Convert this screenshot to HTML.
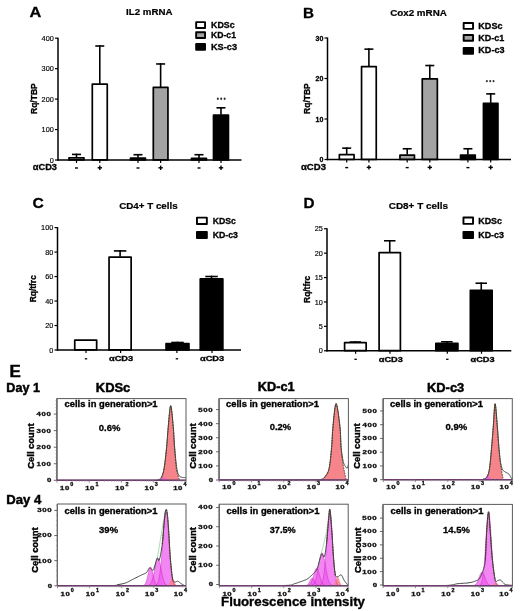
<!DOCTYPE html>
<html><head><meta charset="utf-8"><style>
html,body{margin:0;padding:0;background:#fff;}
body{width:520px;height:611px;overflow:hidden;}
svg{display:block;font-family:"Liberation Sans", sans-serif;}
</style></head><body>
<svg style="will-change:transform" width="520" height="611" viewBox="0 0 520 611" font-family='"Liberation Sans", sans-serif'>
<rect width="520" height="611" fill="#fff"/>
<text x="29.40" y="17.00" font-size="15.5" font-weight="bold" fill="#000" stroke="#000" stroke-width="0.3" textLength="11.80" lengthAdjust="spacingAndGlyphs" >A</text>
<text x="126.00" y="15.00" font-size="9.7" font-weight="bold" fill="#000" stroke="#000" stroke-width="0.2" textLength="46.50" lengthAdjust="spacingAndGlyphs" >IL2 mRNA</text>
<rect x="196.15" y="22.15" width="8.90" height="5.80" fill="#fff" stroke="#000" stroke-width="1.9" stroke-linejoin="round"/>
<text x="211.00" y="27.80" font-size="9" font-weight="bold" fill="#000" stroke="#000" stroke-width="0.3" textLength="23.60" lengthAdjust="spacingAndGlyphs" >KDSc</text>
<rect x="196.15" y="32.25" width="8.90" height="5.70" fill="#a3a3a3" stroke="#000" stroke-width="1.9" stroke-linejoin="round"/>
<text x="211.00" y="38.30" font-size="9" font-weight="bold" fill="#000" stroke="#000" stroke-width="0.3" textLength="25.00" lengthAdjust="spacingAndGlyphs" >KD-c1</text>
<rect x="196.15" y="43.95" width="8.90" height="5.80" fill="#000" stroke="#000" stroke-width="1.9" stroke-linejoin="round"/>
<text x="211.00" y="49.80" font-size="9" font-weight="bold" fill="#000" stroke="#000" stroke-width="0.3" textLength="26.00" lengthAdjust="spacingAndGlyphs" >KS-c3</text>
<line x1="58.00" y1="37.70" x2="58.00" y2="160.75" stroke="#000" stroke-width="1.5" />
<line x1="55.00" y1="38.20" x2="58.00" y2="38.20" stroke="#000" stroke-width="1.2" />
<text x="53.80" y="40.80" font-size="7.3" font-weight="normal" fill="#000" stroke="#000" stroke-width="0.15" text-anchor="end" >400</text>
<line x1="55.00" y1="68.65" x2="58.00" y2="68.65" stroke="#000" stroke-width="1.2" />
<text x="53.80" y="71.25" font-size="7.3" font-weight="normal" fill="#000" stroke="#000" stroke-width="0.15" text-anchor="end" >300</text>
<line x1="55.00" y1="99.10" x2="58.00" y2="99.10" stroke="#000" stroke-width="1.2" />
<text x="53.80" y="101.70" font-size="7.3" font-weight="normal" fill="#000" stroke="#000" stroke-width="0.15" text-anchor="end" >200</text>
<line x1="55.00" y1="129.55" x2="58.00" y2="129.55" stroke="#000" stroke-width="1.2" />
<text x="53.80" y="132.15" font-size="7.3" font-weight="normal" fill="#000" stroke="#000" stroke-width="0.15" text-anchor="end" >100</text>
<line x1="55.00" y1="160.00" x2="58.00" y2="160.00" stroke="#000" stroke-width="1.2" />
<text x="53.80" y="162.60" font-size="7.3" font-weight="normal" fill="#000" stroke="#000" stroke-width="0.15" text-anchor="end" >0</text>
<line x1="57.30" y1="160.00" x2="241.50" y2="160.00" stroke="#000" stroke-width="1.5" />
<text x="36.70" y="98.60" font-size="8.4" font-weight="bold" fill="#000" stroke="#000" stroke-width="0.3" text-anchor="middle" textLength="30.70" lengthAdjust="spacingAndGlyphs" transform="rotate(-90 36.70 98.60)" >Rq/TBP</text>
<rect x="69.00" y="157.81" width="14.95" height="2.09" fill="#fff" stroke="#000" stroke-width="1.7" stroke-linejoin="round"/>
<line x1="76.47" y1="157.46" x2="76.47" y2="153.61" stroke="#000" stroke-width="1.6" />
<line x1="71.97" y1="154.41" x2="80.97" y2="154.41" stroke="#000" stroke-width="1.6" />
<rect x="92.30" y="84.12" width="14.95" height="75.78" fill="#fff" stroke="#000" stroke-width="1.7" stroke-linejoin="round"/>
<line x1="99.78" y1="83.77" x2="99.78" y2="45.20" stroke="#000" stroke-width="1.6" />
<line x1="95.28" y1="46.00" x2="104.28" y2="46.00" stroke="#000" stroke-width="1.6" />
<rect x="130.50" y="158.11" width="14.95" height="1.79" fill="#a3a3a3" stroke="#000" stroke-width="1.7" stroke-linejoin="round"/>
<line x1="137.98" y1="157.76" x2="137.98" y2="153.91" stroke="#000" stroke-width="1.6" />
<line x1="133.48" y1="154.71" x2="142.48" y2="154.71" stroke="#000" stroke-width="1.6" />
<rect x="153.30" y="87.47" width="14.65" height="72.43" fill="#a3a3a3" stroke="#000" stroke-width="1.7" stroke-linejoin="round"/>
<line x1="160.62" y1="87.12" x2="160.62" y2="63.17" stroke="#000" stroke-width="1.6" />
<line x1="156.12" y1="63.97" x2="165.12" y2="63.97" stroke="#000" stroke-width="1.6" />
<rect x="191.50" y="158.41" width="14.95" height="1.49" fill="#000" stroke="#000" stroke-width="1.7" stroke-linejoin="round"/>
<line x1="198.98" y1="158.06" x2="198.98" y2="153.91" stroke="#000" stroke-width="1.6" />
<line x1="194.48" y1="154.71" x2="203.48" y2="154.71" stroke="#000" stroke-width="1.6" />
<rect x="213.50" y="115.17" width="14.95" height="44.72" fill="#000" stroke="#000" stroke-width="1.7" stroke-linejoin="round"/>
<line x1="220.98" y1="114.83" x2="220.98" y2="107.02" stroke="#000" stroke-width="1.6" />
<line x1="216.48" y1="107.82" x2="225.48" y2="107.82" stroke="#000" stroke-width="1.6" />
<ellipse cx="217.80" cy="98.8" rx="1.0" ry="1.2" fill="#333"/>
<ellipse cx="221.20" cy="98.8" rx="1.0" ry="1.2" fill="#333"/>
<ellipse cx="224.60" cy="98.8" rx="1.0" ry="1.2" fill="#333"/>
<text x="32.80" y="170.40" font-size="9" font-weight="bold" fill="#000" stroke="#000" stroke-width="0.3" textLength="24.20" lengthAdjust="spacingAndGlyphs" >αCD3</text>
<line x1="76.50" y1="160.00" x2="76.50" y2="163.00" stroke="#000" stroke-width="1.2" />
<line x1="75.00" y1="168.00" x2="78.00" y2="168.00" stroke="#000" stroke-width="1.4" />
<line x1="99.80" y1="160.00" x2="99.80" y2="163.00" stroke="#000" stroke-width="1.2" />
<line x1="97.60" y1="167.80" x2="102.00" y2="167.80" stroke="#000" stroke-width="1.4" />
<line x1="99.80" y1="165.60" x2="99.80" y2="170.00" stroke="#000" stroke-width="1.4" />
<line x1="138.00" y1="160.00" x2="138.00" y2="163.00" stroke="#000" stroke-width="1.2" />
<line x1="136.50" y1="168.00" x2="139.50" y2="168.00" stroke="#000" stroke-width="1.4" />
<line x1="160.65" y1="160.00" x2="160.65" y2="163.00" stroke="#000" stroke-width="1.2" />
<line x1="158.45" y1="167.80" x2="162.85" y2="167.80" stroke="#000" stroke-width="1.4" />
<line x1="160.65" y1="165.60" x2="160.65" y2="170.00" stroke="#000" stroke-width="1.4" />
<line x1="199.00" y1="160.00" x2="199.00" y2="163.00" stroke="#000" stroke-width="1.2" />
<line x1="197.50" y1="168.00" x2="200.50" y2="168.00" stroke="#000" stroke-width="1.4" />
<line x1="221.00" y1="160.00" x2="221.00" y2="163.00" stroke="#000" stroke-width="1.2" />
<line x1="218.80" y1="167.80" x2="223.20" y2="167.80" stroke="#000" stroke-width="1.4" />
<line x1="221.00" y1="165.60" x2="221.00" y2="170.00" stroke="#000" stroke-width="1.4" />
<text x="302.90" y="18.40" font-size="15.3" font-weight="bold" fill="#000" stroke="#000" stroke-width="0.3" textLength="11.00" lengthAdjust="spacingAndGlyphs" >B</text>
<text x="390.20" y="15.70" font-size="9.8" font-weight="bold" fill="#000" stroke="#000" stroke-width="0.2" textLength="56.60" lengthAdjust="spacingAndGlyphs" >Cox2 mRNA</text>
<rect x="463.65" y="23.05" width="9.40" height="5.80" fill="#fff" stroke="#000" stroke-width="1.9" stroke-linejoin="round"/>
<text x="478.30" y="29.00" font-size="9" font-weight="bold" fill="#000" stroke="#000" stroke-width="0.3" textLength="24.20" lengthAdjust="spacingAndGlyphs" >KDSc</text>
<rect x="463.65" y="34.95" width="9.40" height="5.80" fill="#a3a3a3" stroke="#000" stroke-width="1.9" stroke-linejoin="round"/>
<text x="478.30" y="40.70" font-size="9" font-weight="bold" fill="#000" stroke="#000" stroke-width="0.3" textLength="26.10" lengthAdjust="spacingAndGlyphs" >KD-c1</text>
<rect x="463.65" y="48.05" width="9.40" height="5.80" fill="#000" stroke="#000" stroke-width="1.9" stroke-linejoin="round"/>
<text x="478.30" y="53.30" font-size="9" font-weight="bold" fill="#000" stroke="#000" stroke-width="0.3" textLength="26.20" lengthAdjust="spacingAndGlyphs" >KD-c3</text>
<line x1="327.50" y1="37.50" x2="327.50" y2="160.25" stroke="#000" stroke-width="1.5" />
<line x1="324.50" y1="38.00" x2="327.50" y2="38.00" stroke="#000" stroke-width="1.2" />
<text x="323.30" y="40.60" font-size="7" font-weight="bold" fill="#000" stroke="#000" stroke-width="0.3" text-anchor="end" >30</text>
<line x1="324.50" y1="78.50" x2="327.50" y2="78.50" stroke="#000" stroke-width="1.2" />
<text x="323.30" y="81.10" font-size="7" font-weight="bold" fill="#000" stroke="#000" stroke-width="0.3" text-anchor="end" >20</text>
<line x1="324.50" y1="119.00" x2="327.50" y2="119.00" stroke="#000" stroke-width="1.2" />
<text x="323.30" y="121.60" font-size="7" font-weight="bold" fill="#000" stroke="#000" stroke-width="0.3" text-anchor="end" >10</text>
<line x1="324.50" y1="159.50" x2="327.50" y2="159.50" stroke="#000" stroke-width="1.2" />
<text x="323.30" y="162.10" font-size="7" font-weight="bold" fill="#000" stroke="#000" stroke-width="0.3" text-anchor="end" >0</text>
<line x1="326.80" y1="159.50" x2="511.00" y2="159.50" stroke="#000" stroke-width="1.5" />
<text x="309.60" y="98.60" font-size="8.4" font-weight="bold" fill="#000" stroke="#000" stroke-width="0.3" text-anchor="middle" textLength="30.70" lengthAdjust="spacingAndGlyphs" transform="rotate(-90 309.60 98.60)" >Rq/TBP</text>
<rect x="339.35" y="154.68" width="14.70" height="4.72" fill="#fff" stroke="#000" stroke-width="1.7" stroke-linejoin="round"/>
<line x1="346.70" y1="154.33" x2="346.70" y2="147.35" stroke="#000" stroke-width="1.6" />
<line x1="342.20" y1="148.15" x2="351.20" y2="148.15" stroke="#000" stroke-width="1.6" />
<rect x="361.55" y="66.59" width="14.70" height="92.81" fill="#fff" stroke="#000" stroke-width="1.7" stroke-linejoin="round"/>
<line x1="368.90" y1="66.24" x2="368.90" y2="48.33" stroke="#000" stroke-width="1.6" />
<line x1="364.40" y1="49.13" x2="373.40" y2="49.13" stroke="#000" stroke-width="1.6" />
<rect x="399.95" y="155.09" width="14.50" height="4.31" fill="#a3a3a3" stroke="#000" stroke-width="1.7" stroke-linejoin="round"/>
<line x1="407.20" y1="154.74" x2="407.20" y2="147.96" stroke="#000" stroke-width="1.6" />
<line x1="402.70" y1="148.76" x2="411.70" y2="148.76" stroke="#000" stroke-width="1.6" />
<rect x="422.25" y="78.94" width="15.10" height="80.45" fill="#a3a3a3" stroke="#000" stroke-width="1.7" stroke-linejoin="round"/>
<line x1="429.80" y1="78.59" x2="429.80" y2="64.73" stroke="#000" stroke-width="1.6" />
<line x1="425.30" y1="65.53" x2="434.30" y2="65.53" stroke="#000" stroke-width="1.6" />
<rect x="460.55" y="155.09" width="14.70" height="4.31" fill="#000" stroke="#000" stroke-width="1.7" stroke-linejoin="round"/>
<line x1="467.90" y1="154.74" x2="467.90" y2="147.96" stroke="#000" stroke-width="1.6" />
<line x1="463.40" y1="148.76" x2="472.40" y2="148.76" stroke="#000" stroke-width="1.6" />
<rect x="483.45" y="103.25" width="14.50" height="56.15" fill="#000" stroke="#000" stroke-width="1.7" stroke-linejoin="round"/>
<line x1="490.70" y1="102.90" x2="490.70" y2="93.08" stroke="#000" stroke-width="1.6" />
<line x1="486.20" y1="93.88" x2="495.20" y2="93.88" stroke="#000" stroke-width="1.6" />
<ellipse cx="486.90" cy="81.1" rx="1.0" ry="1.2" fill="#333"/>
<ellipse cx="490.20" cy="81.1" rx="1.0" ry="1.2" fill="#333"/>
<ellipse cx="493.50" cy="81.1" rx="1.0" ry="1.2" fill="#333"/>
<text x="301.00" y="169.80" font-size="9" font-weight="bold" fill="#000" stroke="#000" stroke-width="0.3" textLength="25.00" lengthAdjust="spacingAndGlyphs" >αCD3</text>
<line x1="346.70" y1="159.50" x2="346.70" y2="162.50" stroke="#000" stroke-width="1.2" />
<line x1="345.20" y1="167.60" x2="348.20" y2="167.60" stroke="#000" stroke-width="1.4" />
<line x1="368.90" y1="159.50" x2="368.90" y2="162.50" stroke="#000" stroke-width="1.2" />
<line x1="366.70" y1="167.40" x2="371.10" y2="167.40" stroke="#000" stroke-width="1.4" />
<line x1="368.90" y1="165.20" x2="368.90" y2="169.60" stroke="#000" stroke-width="1.4" />
<line x1="407.20" y1="159.50" x2="407.20" y2="162.50" stroke="#000" stroke-width="1.2" />
<line x1="405.70" y1="167.60" x2="408.70" y2="167.60" stroke="#000" stroke-width="1.4" />
<line x1="429.80" y1="159.50" x2="429.80" y2="162.50" stroke="#000" stroke-width="1.2" />
<line x1="427.60" y1="167.40" x2="432.00" y2="167.40" stroke="#000" stroke-width="1.4" />
<line x1="429.80" y1="165.20" x2="429.80" y2="169.60" stroke="#000" stroke-width="1.4" />
<line x1="467.90" y1="159.50" x2="467.90" y2="162.50" stroke="#000" stroke-width="1.2" />
<line x1="466.40" y1="167.60" x2="469.40" y2="167.60" stroke="#000" stroke-width="1.4" />
<line x1="490.70" y1="159.50" x2="490.70" y2="162.50" stroke="#000" stroke-width="1.2" />
<line x1="488.50" y1="167.40" x2="492.90" y2="167.40" stroke="#000" stroke-width="1.4" />
<line x1="490.70" y1="165.20" x2="490.70" y2="169.60" stroke="#000" stroke-width="1.4" />
<text x="32.40" y="208.30" font-size="15.5" font-weight="bold" fill="#000" stroke="#000" stroke-width="0.3" textLength="11.30" lengthAdjust="spacingAndGlyphs" >C</text>
<text x="119.25" y="208.60" font-size="9.4" font-weight="bold" fill="#000" stroke="#000" stroke-width="0.2" textLength="58.40" lengthAdjust="spacingAndGlyphs" >CD4+ T cells</text>
<rect x="196.95" y="217.65" width="9.90" height="6.30" fill="#fff" stroke="#000" stroke-width="1.9" stroke-linejoin="round"/>
<text x="212.70" y="224.10" font-size="9" font-weight="bold" fill="#000" stroke="#000" stroke-width="0.3" textLength="23.10" lengthAdjust="spacingAndGlyphs" >KDSc</text>
<rect x="196.95" y="231.85" width="9.90" height="6.10" fill="#000" stroke="#000" stroke-width="1.9" stroke-linejoin="round"/>
<text x="212.70" y="238.30" font-size="9" font-weight="bold" fill="#000" stroke="#000" stroke-width="0.3" textLength="25.30" lengthAdjust="spacingAndGlyphs" >KD-c3</text>
<line x1="57.50" y1="227.10" x2="57.50" y2="350.75" stroke="#000" stroke-width="1.5" />
<line x1="54.50" y1="227.60" x2="57.50" y2="227.60" stroke="#000" stroke-width="1.2" />
<text x="53.30" y="230.20" font-size="7.3" font-weight="normal" fill="#000" stroke="#000" stroke-width="0.15" text-anchor="end" >100</text>
<line x1="54.50" y1="252.08" x2="57.50" y2="252.08" stroke="#000" stroke-width="1.2" />
<text x="53.30" y="254.68" font-size="7.3" font-weight="normal" fill="#000" stroke="#000" stroke-width="0.15" text-anchor="end" >80</text>
<line x1="54.50" y1="276.56" x2="57.50" y2="276.56" stroke="#000" stroke-width="1.2" />
<text x="53.30" y="279.16" font-size="7.3" font-weight="normal" fill="#000" stroke="#000" stroke-width="0.15" text-anchor="end" >60</text>
<line x1="54.50" y1="301.04" x2="57.50" y2="301.04" stroke="#000" stroke-width="1.2" />
<text x="53.30" y="303.64" font-size="7.3" font-weight="normal" fill="#000" stroke="#000" stroke-width="0.15" text-anchor="end" >40</text>
<line x1="54.50" y1="325.52" x2="57.50" y2="325.52" stroke="#000" stroke-width="1.2" />
<text x="53.30" y="328.12" font-size="7.3" font-weight="normal" fill="#000" stroke="#000" stroke-width="0.15" text-anchor="end" >20</text>
<line x1="54.50" y1="350.00" x2="57.50" y2="350.00" stroke="#000" stroke-width="1.2" />
<text x="53.30" y="352.60" font-size="7.3" font-weight="normal" fill="#000" stroke="#000" stroke-width="0.15" text-anchor="end" >0</text>
<line x1="56.80" y1="350.00" x2="241.00" y2="350.00" stroke="#000" stroke-width="1.5" />
<text x="36.30" y="288.70" font-size="8.2" font-weight="bold" fill="#000" stroke="#000" stroke-width="0.3" text-anchor="middle" textLength="27.00" lengthAdjust="spacingAndGlyphs" transform="rotate(-90 36.30 288.70)" >Rq/tfrc</text>
<rect x="74.75" y="340.08" width="21.90" height="9.82" fill="#fff" stroke="#000" stroke-width="1.7" stroke-linejoin="round"/>
<rect x="109.05" y="257.21" width="22.10" height="92.69" fill="#fff" stroke="#000" stroke-width="1.7" stroke-linejoin="round"/>
<line x1="120.10" y1="256.86" x2="120.10" y2="250.12" stroke="#000" stroke-width="1.6" />
<line x1="113.85" y1="250.92" x2="126.35" y2="250.92" stroke="#000" stroke-width="1.6" />
<rect x="166.05" y="343.51" width="22.90" height="6.39" fill="#000" stroke="#000" stroke-width="1.7" stroke-linejoin="round"/>
<line x1="177.50" y1="343.16" x2="177.50" y2="341.68" stroke="#000" stroke-width="1.6" />
<line x1="171.25" y1="342.48" x2="183.75" y2="342.48" stroke="#000" stroke-width="1.6" />
<rect x="200.25" y="278.88" width="22.60" height="71.02" fill="#000" stroke="#000" stroke-width="1.7" stroke-linejoin="round"/>
<line x1="211.55" y1="278.53" x2="211.55" y2="275.70" stroke="#000" stroke-width="1.6" />
<line x1="205.30" y1="276.50" x2="217.80" y2="276.50" stroke="#000" stroke-width="1.6" />
<line x1="86.00" y1="350.00" x2="86.00" y2="353.00" stroke="#000" stroke-width="1.2" />
<line x1="84.80" y1="358.80" x2="87.20" y2="358.80" stroke="#000" stroke-width="1.3" />
<line x1="176.90" y1="350.00" x2="176.90" y2="353.00" stroke="#000" stroke-width="1.2" />
<line x1="175.70" y1="358.80" x2="178.10" y2="358.80" stroke="#000" stroke-width="1.3" />
<line x1="120.60" y1="350.00" x2="120.60" y2="353.00" stroke="#000" stroke-width="1.2" />
<text x="109.00" y="361.20" font-size="7.2" font-weight="bold" fill="#000" stroke="#000" stroke-width="0.3" textLength="24.20" lengthAdjust="spacingAndGlyphs" >αCD3</text>
<line x1="212.00" y1="350.00" x2="212.00" y2="353.00" stroke="#000" stroke-width="1.2" />
<text x="200.00" y="361.20" font-size="7.2" font-weight="bold" fill="#000" stroke="#000" stroke-width="0.3" textLength="24.20" lengthAdjust="spacingAndGlyphs" >αCD3</text>
<text x="303.50" y="208.20" font-size="15.3" font-weight="bold" fill="#000" stroke="#000" stroke-width="0.3" textLength="11.00" lengthAdjust="spacingAndGlyphs" >D</text>
<text x="388.75" y="208.60" font-size="9.4" font-weight="bold" fill="#000" stroke="#000" stroke-width="0.2" textLength="59.30" lengthAdjust="spacingAndGlyphs" >CD8+ T cells</text>
<rect x="463.45" y="217.55" width="9.60" height="6.30" fill="#fff" stroke="#000" stroke-width="1.9" stroke-linejoin="round"/>
<text x="478.25" y="224.10" font-size="9" font-weight="bold" fill="#000" stroke="#000" stroke-width="0.3" textLength="23.75" lengthAdjust="spacingAndGlyphs" >KDSc</text>
<rect x="463.45" y="231.85" width="9.60" height="6.10" fill="#000" stroke="#000" stroke-width="1.9" stroke-linejoin="round"/>
<text x="478.25" y="238.40" font-size="9" font-weight="bold" fill="#000" stroke="#000" stroke-width="0.3" textLength="25.75" lengthAdjust="spacingAndGlyphs" >KD-c3</text>
<line x1="327.00" y1="228.25" x2="327.00" y2="351.50" stroke="#000" stroke-width="1.5" />
<line x1="324.00" y1="228.75" x2="327.00" y2="228.75" stroke="#000" stroke-width="1.2" />
<text x="322.80" y="231.35" font-size="7.3" font-weight="normal" fill="#000" stroke="#000" stroke-width="0.15" text-anchor="end" >25</text>
<line x1="324.00" y1="253.15" x2="327.00" y2="253.15" stroke="#000" stroke-width="1.2" />
<text x="322.80" y="255.75" font-size="7.3" font-weight="normal" fill="#000" stroke="#000" stroke-width="0.15" text-anchor="end" >20</text>
<line x1="324.00" y1="277.55" x2="327.00" y2="277.55" stroke="#000" stroke-width="1.2" />
<text x="322.80" y="280.15" font-size="7.3" font-weight="normal" fill="#000" stroke="#000" stroke-width="0.15" text-anchor="end" >15</text>
<line x1="324.00" y1="301.95" x2="327.00" y2="301.95" stroke="#000" stroke-width="1.2" />
<text x="322.80" y="304.55" font-size="7.3" font-weight="normal" fill="#000" stroke="#000" stroke-width="0.15" text-anchor="end" >10</text>
<line x1="324.00" y1="326.35" x2="327.00" y2="326.35" stroke="#000" stroke-width="1.2" />
<text x="322.80" y="328.95" font-size="7.3" font-weight="normal" fill="#000" stroke="#000" stroke-width="0.15" text-anchor="end" >5</text>
<line x1="324.00" y1="350.75" x2="327.00" y2="350.75" stroke="#000" stroke-width="1.2" />
<text x="322.80" y="353.35" font-size="7.3" font-weight="normal" fill="#000" stroke="#000" stroke-width="0.15" text-anchor="end" >0</text>
<line x1="326.30" y1="350.75" x2="511.30" y2="350.75" stroke="#000" stroke-width="1.5" />
<text x="310.50" y="289.40" font-size="8.2" font-weight="bold" fill="#000" stroke="#000" stroke-width="0.3" text-anchor="middle" textLength="27.00" lengthAdjust="spacingAndGlyphs" transform="rotate(-90 310.50 289.40)" >Rq/tfrc</text>
<rect x="344.60" y="342.62" width="21.55" height="8.03" fill="#fff" stroke="#000" stroke-width="1.7" stroke-linejoin="round"/>
<line x1="355.38" y1="342.27" x2="355.38" y2="341.23" stroke="#000" stroke-width="1.6" />
<line x1="349.62" y1="342.03" x2="361.12" y2="342.03" stroke="#000" stroke-width="1.6" />
<rect x="379.10" y="252.54" width="21.30" height="98.11" fill="#fff" stroke="#000" stroke-width="1.7" stroke-linejoin="round"/>
<line x1="389.75" y1="252.19" x2="389.75" y2="239.97" stroke="#000" stroke-width="1.6" />
<line x1="384.00" y1="240.77" x2="395.50" y2="240.77" stroke="#000" stroke-width="1.6" />
<rect x="435.85" y="343.30" width="22.05" height="7.35" fill="#000" stroke="#000" stroke-width="1.7" stroke-linejoin="round"/>
<line x1="446.88" y1="342.95" x2="446.88" y2="340.99" stroke="#000" stroke-width="1.6" />
<line x1="441.12" y1="341.79" x2="452.62" y2="341.79" stroke="#000" stroke-width="1.6" />
<rect x="470.35" y="290.36" width="21.80" height="60.29" fill="#000" stroke="#000" stroke-width="1.7" stroke-linejoin="round"/>
<line x1="481.25" y1="290.01" x2="481.25" y2="282.43" stroke="#000" stroke-width="1.6" />
<line x1="475.50" y1="283.23" x2="487.00" y2="283.23" stroke="#000" stroke-width="1.6" />
<line x1="355.60" y1="350.75" x2="355.60" y2="353.75" stroke="#000" stroke-width="1.2" />
<line x1="354.40" y1="359.30" x2="356.80" y2="359.30" stroke="#000" stroke-width="1.3" />
<line x1="447.30" y1="350.75" x2="447.30" y2="353.75" stroke="#000" stroke-width="1.2" />
<line x1="446.10" y1="359.30" x2="448.50" y2="359.30" stroke="#000" stroke-width="1.3" />
<line x1="390.00" y1="350.75" x2="390.00" y2="353.75" stroke="#000" stroke-width="1.2" />
<text x="378.75" y="361.80" font-size="7.2" font-weight="bold" fill="#000" stroke="#000" stroke-width="0.3" textLength="24.00" lengthAdjust="spacingAndGlyphs" >αCD3</text>
<line x1="481.50" y1="350.75" x2="481.50" y2="353.75" stroke="#000" stroke-width="1.2" />
<text x="470.50" y="361.80" font-size="7.2" font-weight="bold" fill="#000" stroke="#000" stroke-width="0.3" textLength="24.00" lengthAdjust="spacingAndGlyphs" >αCD3</text>
<text x="9.60" y="377.10" font-size="16.2" font-weight="bold" fill="#000" stroke="#000" stroke-width="0.45" textLength="11.30" lengthAdjust="spacingAndGlyphs" >E</text>
<text x="6.30" y="391.60" font-size="12" font-weight="bold" fill="#000" stroke="#000" stroke-width="0.45" textLength="33.70" lengthAdjust="spacingAndGlyphs" >Day 1</text>
<text x="6.30" y="503.90" font-size="12.5" font-weight="bold" fill="#000" stroke="#000" stroke-width="0.45" textLength="35.00" lengthAdjust="spacingAndGlyphs" >Day 4</text>
<text x="95.80" y="391.50" font-size="12.5" font-weight="bold" fill="#000" stroke="#000" stroke-width="0.45" textLength="34.50" lengthAdjust="spacingAndGlyphs" >KDSc</text>
<text x="257.70" y="391.40" font-size="12.5" font-weight="bold" fill="#000" stroke="#000" stroke-width="0.45" textLength="36.90" lengthAdjust="spacingAndGlyphs" >KD-c1</text>
<text x="427.00" y="391.60" font-size="12.5" font-weight="bold" fill="#000" stroke="#000" stroke-width="0.45" textLength="37.20" lengthAdjust="spacingAndGlyphs" >KD-c3</text>
<text x="221.10" y="606.20" font-size="13" font-weight="bold" fill="#000" stroke="#000" stroke-width="0.35" textLength="143.90" lengthAdjust="spacingAndGlyphs" >Fluorescence intensity</text>
<rect x="57.00" y="398.60" width="129.00" height="81.70" fill="#fff" stroke="none"/>
<clipPath id="c140218181574464"><rect x="57.00" y="398.60" width="129.00" height="81.70"/></clipPath>
<g clip-path="url(#c140218181574464)">
<path d="M160.50,480.30 L160.57,480.17 L160.64,480.06 L160.73,479.93 L160.84,479.75 L160.96,479.50 L161.11,479.14 L161.29,478.65 L161.50,478.00 L161.75,477.23 L162.04,476.38 L162.36,475.44 L162.71,474.37 L163.06,473.16 L163.42,471.78 L163.77,470.20 L164.10,468.40 L164.42,466.31 L164.75,463.93 L165.08,461.33 L165.41,458.57 L165.73,455.72 L166.03,452.84 L166.33,450.02 L166.60,447.30 L166.85,444.66 L167.06,442.01 L167.27,439.36 L167.46,436.71 L167.65,434.07 L167.84,431.43 L168.06,428.81 L168.30,426.20 L168.57,423.33 L168.85,420.07 L169.14,416.67 L169.45,413.35 L169.76,410.36 L170.08,407.93 L170.39,406.30 L170.70,405.70 L171.02,406.30 L171.34,407.93 L171.68,410.36 L172.01,413.35 L172.34,416.67 L172.65,420.07 L172.94,423.33 L173.20,426.20 L173.43,428.81 L173.62,431.43 L173.79,434.07 L173.95,436.71 L174.10,439.36 L174.25,442.01 L174.42,444.66 L174.60,447.30 L174.80,450.03 L175.00,452.88 L175.20,455.78 L175.41,458.66 L175.63,461.44 L175.85,464.04 L176.07,466.38 L176.30,468.40 L176.54,470.06 L176.80,471.44 L177.06,472.58 L177.33,473.53 L177.59,474.35 L177.84,475.08 L178.08,475.78 L178.30,476.50 L178.50,477.21 L178.70,477.84 L178.90,478.41 L179.08,478.91 L179.24,479.34 L179.38,479.72 L179.50,480.04 L179.60,480.30 Z" fill="#f5858a" fill-opacity="1.0" stroke="none"/>
<path d="M156.00,480.30 L156.00,480.30 L156.18,480.30 L156.36,480.30 L156.54,480.30 L156.72,480.30 L156.90,480.29 L157.08,480.29 L157.26,480.29 L157.44,480.28 L157.62,480.28 L157.80,480.27 L157.98,480.26 L158.16,480.24 L158.34,480.22 L158.52,480.20 L158.70,480.17 L158.88,480.13 L159.06,480.09 L159.24,480.03 L159.42,479.97 L159.60,479.89 L159.78,479.81 L159.96,479.71 L160.14,479.59 L160.32,479.47 L160.50,479.33 L160.68,479.17 L160.86,479.01 L161.04,478.84 L161.22,478.66 L161.40,478.48 L161.58,478.30 L161.76,478.12 L161.94,477.95 L162.12,477.79 L162.30,477.65 L162.48,477.53 L162.66,477.43 L162.84,477.36 L163.02,477.31 L163.20,477.30 L163.38,477.31 L163.56,477.36 L163.74,477.43 L163.92,477.53 L164.10,477.65 L164.28,477.79 L164.46,477.95 L164.64,478.12 L164.82,478.30 L165.00,478.48 L165.18,478.66 L165.36,478.84 L165.54,479.01 L165.72,479.17 L165.90,479.33 L166.08,479.47 L166.26,479.59 L166.44,479.71 L166.62,479.81 L166.80,479.89 L166.98,479.97 L167.16,480.03 L167.34,480.09 L167.52,480.13 L167.70,480.17 L167.88,480.20 L168.06,480.22 L168.24,480.24 L168.42,480.26 L168.60,480.27 L168.78,480.28 L168.96,480.28 L169.14,480.29 L169.32,480.29 L169.50,480.29 L169.68,480.30 L169.86,480.30 L170.04,480.30 L170.22,480.30 L170.40,480.30 L170.40,480.30 Z" fill="#f05cf0" fill-opacity="0.8" stroke="none"/>
<path d="M57.00,480.30 L64.76,480.30 L75.70,480.31 L88.80,480.32 L103.00,480.33 L117.26,480.34 L130.55,480.34 L141.81,480.32 L150.00,480.30 L155.10,480.28 L158.09,480.26 L159.43,480.24 L159.61,480.21 L159.08,480.16 L158.32,480.08 L157.81,479.96 L158.00,479.80 L158.64,479.63 L159.17,479.47 L159.60,479.29 L159.97,479.08 L160.31,478.79 L160.62,478.42 L160.94,477.93 L161.30,477.30 L161.68,476.58 L162.04,475.81 L162.40,474.97 L162.75,474.01 L163.09,472.91 L163.43,471.63 L163.77,470.14 L164.10,468.40 L164.43,466.35 L164.76,463.98 L165.09,461.38 L165.42,458.61 L165.73,455.75 L166.04,452.86 L166.33,450.02 L166.60,447.30 L166.85,444.66 L167.06,442.01 L167.27,439.36 L167.46,436.71 L167.65,434.07 L167.84,431.43 L168.06,428.81 L168.30,426.20 L168.57,423.33 L168.85,420.07 L169.14,416.67 L169.45,413.35 L169.76,410.36 L170.08,407.93 L170.39,406.30 L170.70,405.70 L171.02,406.30 L171.34,407.93 L171.68,410.36 L172.01,413.35 L172.34,416.67 L172.65,420.07 L172.94,423.33 L173.20,426.20 L173.42,428.81 L173.61,431.43 L173.77,434.07 L173.92,436.71 L174.06,439.36 L174.22,442.01 L174.39,444.66 L174.60,447.30 L174.84,450.03 L175.09,452.90 L175.37,455.83 L175.65,458.73 L175.94,461.51 L176.23,464.11 L176.52,466.43 L176.80,468.40 L177.07,469.99 L177.34,471.29 L177.61,472.33 L177.88,473.16 L178.15,473.85 L178.43,474.43 L178.71,474.97 L179.00,475.50 L179.29,475.98 L179.59,476.34 L179.89,476.59 L180.20,476.77 L180.51,476.90 L180.83,476.99 L181.16,477.09 L181.50,477.20 L181.85,477.31 L182.23,477.40 L182.61,477.46 L183.00,477.51 L183.39,477.54 L183.77,477.56 L184.15,477.58 L184.50,477.60 L184.85,477.62 L185.22,477.63 L185.58,477.63 L185.94,477.63 L186.27,477.62 L186.56,477.61 L186.81,477.60 L187.00,477.60" fill="none" stroke="#3c3c3c" stroke-width="0.95"/>
<path d="M160.50,480.30 L160.57,480.17 L160.64,480.06 L160.73,479.93 L160.84,479.75 L160.96,479.50 L161.11,479.14 L161.29,478.65 L161.50,478.00 L161.75,477.23 L162.04,476.38 L162.36,475.44 L162.71,474.37 L163.06,473.16 L163.42,471.78 L163.77,470.20 L164.10,468.40 L164.42,466.31 L164.75,463.93 L165.08,461.33 L165.41,458.57 L165.73,455.72 L166.03,452.84 L166.33,450.02 L166.60,447.30 L166.85,444.66 L167.06,442.01 L167.27,439.36 L167.46,436.71 L167.65,434.07 L167.84,431.43 L168.06,428.81 L168.30,426.20 L168.57,423.33 L168.85,420.07 L169.14,416.67 L169.45,413.35 L169.76,410.36 L170.08,407.93 L170.39,406.30 L170.70,405.70 L171.02,406.30 L171.34,407.93 L171.68,410.36 L172.01,413.35 L172.34,416.67 L172.65,420.07 L172.94,423.33 L173.20,426.20 L173.43,428.81 L173.62,431.43 L173.79,434.07 L173.95,436.71 L174.10,439.36 L174.25,442.01 L174.42,444.66 L174.60,447.30 L174.80,450.03 L175.00,452.88 L175.20,455.78 L175.41,458.66 L175.63,461.44 L175.85,464.04 L176.07,466.38 L176.30,468.40 L176.54,470.06 L176.80,471.44 L177.06,472.58 L177.33,473.53 L177.59,474.35 L177.84,475.08 L178.08,475.78 L178.30,476.50 L178.50,477.21 L178.70,477.84 L178.90,478.41 L179.08,478.91 L179.24,479.34 L179.38,479.72 L179.50,480.04 L179.60,480.30" fill="none" stroke="#4a3f25" stroke-width="1.0" stroke-dasharray="1.6 1.1"/>
</g>
<rect x="57.00" y="398.60" width="129.00" height="81.70" fill="none" stroke="#5a5a5a" stroke-width="1.0"/>
<line x1="56.80" y1="398.60" x2="56.80" y2="480.30" stroke="#6a6a6a" stroke-width="1.4" />
<line x1="57.00" y1="480.30" x2="186.00" y2="480.30" stroke="#6e3a6e" stroke-width="1.4" />
<line x1="53.80" y1="414.10" x2="57.00" y2="414.10" stroke="#555" stroke-width="0.9" />
<text x="0" y="0" font-size="5.2" font-weight="bold" fill="#111" stroke="#111" stroke-width="0.3" textLength="9.53" lengthAdjust="spacing" transform="translate(36.50 416.00) scale(1.5 1)">400</text>
<line x1="53.80" y1="430.65" x2="57.00" y2="430.65" stroke="#555" stroke-width="0.9" />
<text x="0" y="0" font-size="5.2" font-weight="bold" fill="#111" stroke="#111" stroke-width="0.3" textLength="9.53" lengthAdjust="spacing" transform="translate(36.50 432.55) scale(1.5 1)">300</text>
<line x1="53.80" y1="447.20" x2="57.00" y2="447.20" stroke="#555" stroke-width="0.9" />
<text x="0" y="0" font-size="5.2" font-weight="bold" fill="#111" stroke="#111" stroke-width="0.3" textLength="9.53" lengthAdjust="spacing" transform="translate(36.50 449.10) scale(1.5 1)">200</text>
<line x1="53.80" y1="463.75" x2="57.00" y2="463.75" stroke="#555" stroke-width="0.9" />
<text x="0" y="0" font-size="5.2" font-weight="bold" fill="#111" stroke="#111" stroke-width="0.3" textLength="9.53" lengthAdjust="spacing" transform="translate(36.50 465.65) scale(1.5 1)">100</text>
<line x1="53.80" y1="480.30" x2="57.00" y2="480.30" stroke="#555" stroke-width="0.9" />
<text x="0" y="0" font-size="5.2" font-weight="bold" fill="#111" stroke="#111" stroke-width="0.3" textLength="2.60" lengthAdjust="spacing" transform="translate(46.90 482.20) scale(1.5 1)">0</text>
<line x1="55.40" y1="476.99" x2="57.00" y2="476.99" stroke="#8a8a8a" stroke-width="0.6" />
<line x1="55.40" y1="473.68" x2="57.00" y2="473.68" stroke="#8a8a8a" stroke-width="0.6" />
<line x1="55.40" y1="470.37" x2="57.00" y2="470.37" stroke="#8a8a8a" stroke-width="0.6" />
<line x1="55.40" y1="467.06" x2="57.00" y2="467.06" stroke="#8a8a8a" stroke-width="0.6" />
<line x1="55.40" y1="460.44" x2="57.00" y2="460.44" stroke="#8a8a8a" stroke-width="0.6" />
<line x1="55.40" y1="457.13" x2="57.00" y2="457.13" stroke="#8a8a8a" stroke-width="0.6" />
<line x1="55.40" y1="453.82" x2="57.00" y2="453.82" stroke="#8a8a8a" stroke-width="0.6" />
<line x1="55.40" y1="450.51" x2="57.00" y2="450.51" stroke="#8a8a8a" stroke-width="0.6" />
<line x1="55.40" y1="443.89" x2="57.00" y2="443.89" stroke="#8a8a8a" stroke-width="0.6" />
<line x1="55.40" y1="440.58" x2="57.00" y2="440.58" stroke="#8a8a8a" stroke-width="0.6" />
<line x1="55.40" y1="437.27" x2="57.00" y2="437.27" stroke="#8a8a8a" stroke-width="0.6" />
<line x1="55.40" y1="433.96" x2="57.00" y2="433.96" stroke="#8a8a8a" stroke-width="0.6" />
<line x1="55.40" y1="427.34" x2="57.00" y2="427.34" stroke="#8a8a8a" stroke-width="0.6" />
<line x1="55.40" y1="424.03" x2="57.00" y2="424.03" stroke="#8a8a8a" stroke-width="0.6" />
<line x1="55.40" y1="420.72" x2="57.00" y2="420.72" stroke="#8a8a8a" stroke-width="0.6" />
<line x1="55.40" y1="417.41" x2="57.00" y2="417.41" stroke="#8a8a8a" stroke-width="0.6" />
<line x1="55.40" y1="410.79" x2="57.00" y2="410.79" stroke="#8a8a8a" stroke-width="0.6" />
<line x1="55.40" y1="407.48" x2="57.00" y2="407.48" stroke="#8a8a8a" stroke-width="0.6" />
<line x1="55.40" y1="404.17" x2="57.00" y2="404.17" stroke="#8a8a8a" stroke-width="0.6" />
<line x1="55.40" y1="400.86" x2="57.00" y2="400.86" stroke="#8a8a8a" stroke-width="0.6" />
<line x1="66.71" y1="480.30" x2="66.71" y2="481.90" stroke="#999" stroke-width="0.6" />
<line x1="72.39" y1="480.30" x2="72.39" y2="481.90" stroke="#999" stroke-width="0.6" />
<line x1="76.42" y1="480.30" x2="76.42" y2="481.90" stroke="#999" stroke-width="0.6" />
<line x1="79.54" y1="480.30" x2="79.54" y2="481.90" stroke="#999" stroke-width="0.6" />
<line x1="82.10" y1="480.30" x2="82.10" y2="481.90" stroke="#999" stroke-width="0.6" />
<line x1="84.25" y1="480.30" x2="84.25" y2="481.90" stroke="#999" stroke-width="0.6" />
<line x1="86.12" y1="480.30" x2="86.12" y2="481.90" stroke="#999" stroke-width="0.6" />
<line x1="87.77" y1="480.30" x2="87.77" y2="481.90" stroke="#999" stroke-width="0.6" />
<line x1="98.96" y1="480.30" x2="98.96" y2="481.90" stroke="#999" stroke-width="0.6" />
<line x1="104.64" y1="480.30" x2="104.64" y2="481.90" stroke="#999" stroke-width="0.6" />
<line x1="108.67" y1="480.30" x2="108.67" y2="481.90" stroke="#999" stroke-width="0.6" />
<line x1="111.79" y1="480.30" x2="111.79" y2="481.90" stroke="#999" stroke-width="0.6" />
<line x1="114.35" y1="480.30" x2="114.35" y2="481.90" stroke="#999" stroke-width="0.6" />
<line x1="116.50" y1="480.30" x2="116.50" y2="481.90" stroke="#999" stroke-width="0.6" />
<line x1="118.37" y1="480.30" x2="118.37" y2="481.90" stroke="#999" stroke-width="0.6" />
<line x1="120.02" y1="480.30" x2="120.02" y2="481.90" stroke="#999" stroke-width="0.6" />
<line x1="131.21" y1="480.30" x2="131.21" y2="481.90" stroke="#999" stroke-width="0.6" />
<line x1="136.89" y1="480.30" x2="136.89" y2="481.90" stroke="#999" stroke-width="0.6" />
<line x1="140.92" y1="480.30" x2="140.92" y2="481.90" stroke="#999" stroke-width="0.6" />
<line x1="144.04" y1="480.30" x2="144.04" y2="481.90" stroke="#999" stroke-width="0.6" />
<line x1="146.60" y1="480.30" x2="146.60" y2="481.90" stroke="#999" stroke-width="0.6" />
<line x1="148.75" y1="480.30" x2="148.75" y2="481.90" stroke="#999" stroke-width="0.6" />
<line x1="150.62" y1="480.30" x2="150.62" y2="481.90" stroke="#999" stroke-width="0.6" />
<line x1="152.27" y1="480.30" x2="152.27" y2="481.90" stroke="#999" stroke-width="0.6" />
<line x1="163.46" y1="480.30" x2="163.46" y2="481.90" stroke="#999" stroke-width="0.6" />
<line x1="169.14" y1="480.30" x2="169.14" y2="481.90" stroke="#999" stroke-width="0.6" />
<line x1="173.17" y1="480.30" x2="173.17" y2="481.90" stroke="#999" stroke-width="0.6" />
<line x1="176.29" y1="480.30" x2="176.29" y2="481.90" stroke="#999" stroke-width="0.6" />
<line x1="178.85" y1="480.30" x2="178.85" y2="481.90" stroke="#999" stroke-width="0.6" />
<line x1="181.00" y1="480.30" x2="181.00" y2="481.90" stroke="#999" stroke-width="0.6" />
<line x1="182.87" y1="480.30" x2="182.87" y2="481.90" stroke="#999" stroke-width="0.6" />
<line x1="184.52" y1="480.30" x2="184.52" y2="481.90" stroke="#999" stroke-width="0.6" />
<line x1="57.00" y1="480.30" x2="57.00" y2="482.70" stroke="#777" stroke-width="0.8" />
<line x1="89.25" y1="480.30" x2="89.25" y2="482.70" stroke="#777" stroke-width="0.8" />
<line x1="121.50" y1="480.30" x2="121.50" y2="482.70" stroke="#777" stroke-width="0.8" />
<line x1="153.75" y1="480.30" x2="153.75" y2="482.70" stroke="#777" stroke-width="0.8" />
<line x1="186.00" y1="480.30" x2="186.00" y2="482.70" stroke="#777" stroke-width="0.8" />
<text x="0" y="0" font-size="5.0" font-weight="bold" fill="#111" stroke="#111" stroke-width="0.3" textLength="5.94" lengthAdjust="spacing" transform="translate(60.00 489.60) scale(1.55 1)">10</text>
<text x="0" y="0" font-size="4.5" font-weight="bold" fill="#111" stroke="#111" stroke-width="0.3" textLength="2.92" lengthAdjust="spacing" transform="translate(70.20 485.60) scale(1.2 1)">0</text>
<text x="0" y="0" font-size="5.0" font-weight="bold" fill="#111" stroke="#111" stroke-width="0.3" textLength="5.94" lengthAdjust="spacing" transform="translate(85.20 489.60) scale(1.55 1)">10</text>
<text x="0" y="0" font-size="4.5" font-weight="bold" fill="#111" stroke="#111" stroke-width="0.3" textLength="2.92" lengthAdjust="spacing" transform="translate(95.40 485.60) scale(1.2 1)">1</text>
<text x="0" y="0" font-size="5.0" font-weight="bold" fill="#111" stroke="#111" stroke-width="0.3" textLength="5.94" lengthAdjust="spacing" transform="translate(115.20 489.60) scale(1.55 1)">10</text>
<text x="0" y="0" font-size="4.5" font-weight="bold" fill="#111" stroke="#111" stroke-width="0.3" textLength="2.92" lengthAdjust="spacing" transform="translate(125.40 485.60) scale(1.2 1)">2</text>
<text x="0" y="0" font-size="5.0" font-weight="bold" fill="#111" stroke="#111" stroke-width="0.3" textLength="5.94" lengthAdjust="spacing" transform="translate(144.60 489.60) scale(1.55 1)">10</text>
<text x="0" y="0" font-size="4.5" font-weight="bold" fill="#111" stroke="#111" stroke-width="0.3" textLength="2.92" lengthAdjust="spacing" transform="translate(154.80 485.60) scale(1.2 1)">3</text>
<text x="0" y="0" font-size="5.0" font-weight="bold" fill="#111" stroke="#111" stroke-width="0.3" textLength="5.94" lengthAdjust="spacing" transform="translate(173.20 489.60) scale(1.55 1)">10</text>
<text x="0" y="0" font-size="4.5" font-weight="bold" fill="#111" stroke="#111" stroke-width="0.3" textLength="2.92" lengthAdjust="spacing" transform="translate(183.40 485.60) scale(1.2 1)">4</text>
<text x="64.60" y="407.20" font-size="9.3" font-weight="bold" fill="#000" stroke="#000" stroke-width="0.35" textLength="93.00" lengthAdjust="spacingAndGlyphs" >cells in generation&gt;1</text>
<text x="98.80" y="430.60" font-size="9.5" font-weight="bold" fill="#000" stroke="#000" stroke-width="0.3" textLength="21.60" lengthAdjust="spacingAndGlyphs" >0.6%</text>
<text x="34.30" y="446.00" font-size="9.5" font-weight="bold" fill="#000" stroke="#000" stroke-width="0.4" text-anchor="middle" textLength="45.50" lengthAdjust="spacingAndGlyphs" transform="rotate(-90 34.30 446.00)" >Cell count</text>
<rect x="219.20" y="398.60" width="129.20" height="81.40" fill="#fff" stroke="none"/>
<clipPath id="c140218181574528"><rect x="219.20" y="398.60" width="129.20" height="81.40"/></clipPath>
<g clip-path="url(#c140218181574528)">
<path d="M322.50,480.00 L322.67,479.80 L322.89,479.57 L323.15,479.30 L323.44,478.98 L323.76,478.59 L324.12,478.13 L324.50,477.57 L324.90,476.90 L325.35,476.18 L325.86,475.45 L326.42,474.66 L326.99,473.77 L327.57,472.75 L328.13,471.54 L328.64,470.10 L329.10,468.40 L329.50,466.37 L329.87,464.01 L330.21,461.41 L330.53,458.64 L330.82,455.77 L331.09,452.87 L331.35,450.02 L331.60,447.30 L331.82,444.67 L331.99,442.06 L332.13,439.45 L332.26,436.84 L332.40,434.22 L332.56,431.58 L332.75,428.91 L333.00,426.20 L333.30,423.14 L333.64,419.60 L334.01,415.85 L334.40,412.17 L334.81,408.83 L335.24,406.11 L335.67,404.27 L336.10,403.60 L336.56,404.27 L337.06,406.11 L337.59,408.83 L338.12,412.17 L338.63,415.85 L339.12,419.60 L339.54,423.14 L339.90,426.20 L340.17,428.96 L340.38,431.74 L340.53,434.53 L340.64,437.28 L340.74,439.97 L340.84,442.55 L340.95,445.01 L341.10,447.30 L341.27,449.43 L341.45,451.43 L341.64,453.32 L341.83,455.10 L342.02,456.79 L342.21,458.39 L342.41,459.92 L342.60,461.40 L342.80,462.79 L343.00,464.09 L343.21,465.29 L343.41,466.42 L343.62,467.50 L343.82,468.52 L344.01,469.52 L344.20,470.50 L344.38,471.46 L344.56,472.39 L344.74,473.28 L344.91,474.13 L345.07,474.93 L345.22,475.68 L345.37,476.37 L345.50,477.00 L345.62,477.56 L345.73,478.07 L345.84,478.51 L345.93,478.91 L346.02,479.25 L346.09,479.54 L346.15,479.79 L346.20,480.00 Z" fill="#f5858a" fill-opacity="1.0" stroke="none"/>
<path d="M219.00,480.00 L227.02,480.00 L238.36,480.01 L251.92,480.03 L266.62,480.04 L281.37,480.04 L295.08,480.04 L306.65,480.03 L315.00,480.00 L320.07,479.97 L322.88,479.94 L323.93,479.90 L323.76,479.86 L322.86,479.79 L321.76,479.70 L320.97,479.57 L321.00,479.40 L321.59,479.22 L322.12,479.05 L322.60,478.87 L323.06,478.64 L323.51,478.36 L323.95,477.99 L324.41,477.51 L324.90,476.90 L325.42,476.21 L325.97,475.49 L326.53,474.71 L327.09,473.81 L327.64,472.77 L328.16,471.55 L328.65,470.11 L329.10,468.40 L329.50,466.37 L329.87,464.01 L330.21,461.41 L330.53,458.64 L330.82,455.77 L331.09,452.87 L331.35,450.02 L331.60,447.30 L331.82,444.67 L331.99,442.06 L332.13,439.45 L332.26,436.84 L332.40,434.22 L332.56,431.58 L332.75,428.91 L333.00,426.20 L333.30,423.14 L333.64,419.60 L334.01,415.85 L334.40,412.17 L334.81,408.83 L335.24,406.11 L335.67,404.27 L336.10,403.60 L336.56,404.27 L337.06,406.11 L337.59,408.83 L338.12,412.17 L338.63,415.85 L339.12,419.60 L339.54,423.14 L339.90,426.20 L340.17,428.96 L340.36,431.74 L340.50,434.53 L340.61,437.28 L340.70,439.97 L340.80,442.55 L340.92,445.01 L341.10,447.30 L341.32,449.46 L341.56,451.53 L341.81,453.50 L342.08,455.35 L342.36,457.08 L342.64,458.67 L342.92,460.12 L343.20,461.40 L343.48,462.49 L343.77,463.39 L344.07,464.13 L344.36,464.74 L344.66,465.25 L344.95,465.69 L345.23,466.10 L345.50,466.50 L345.76,466.91 L346.01,467.30 L346.25,467.66 L346.49,467.94 L346.73,468.15 L346.96,468.24 L347.18,468.20 L347.40,468.00 L347.63,467.57 L347.86,466.89 L348.09,466.04 L348.32,465.09 L348.53,464.14 L348.72,463.25 L348.88,462.51 L349.00,462.00" fill="none" stroke="#3c3c3c" stroke-width="0.95"/>
<path d="M322.50,480.00 L322.67,479.80 L322.89,479.57 L323.15,479.30 L323.44,478.98 L323.76,478.59 L324.12,478.13 L324.50,477.57 L324.90,476.90 L325.35,476.18 L325.86,475.45 L326.42,474.66 L326.99,473.77 L327.57,472.75 L328.13,471.54 L328.64,470.10 L329.10,468.40 L329.50,466.37 L329.87,464.01 L330.21,461.41 L330.53,458.64 L330.82,455.77 L331.09,452.87 L331.35,450.02 L331.60,447.30 L331.82,444.67 L331.99,442.06 L332.13,439.45 L332.26,436.84 L332.40,434.22 L332.56,431.58 L332.75,428.91 L333.00,426.20 L333.30,423.14 L333.64,419.60 L334.01,415.85 L334.40,412.17 L334.81,408.83 L335.24,406.11 L335.67,404.27 L336.10,403.60 L336.56,404.27 L337.06,406.11 L337.59,408.83 L338.12,412.17 L338.63,415.85 L339.12,419.60 L339.54,423.14 L339.90,426.20 L340.17,428.96 L340.38,431.74 L340.53,434.53 L340.64,437.28 L340.74,439.97 L340.84,442.55 L340.95,445.01 L341.10,447.30 L341.27,449.43 L341.45,451.43 L341.64,453.32 L341.83,455.10 L342.02,456.79 L342.21,458.39 L342.41,459.92 L342.60,461.40 L342.80,462.79 L343.00,464.09 L343.21,465.29 L343.41,466.42 L343.62,467.50 L343.82,468.52 L344.01,469.52 L344.20,470.50 L344.38,471.46 L344.56,472.39 L344.74,473.28 L344.91,474.13 L345.07,474.93 L345.22,475.68 L345.37,476.37 L345.50,477.00 L345.62,477.56 L345.73,478.07 L345.84,478.51 L345.93,478.91 L346.02,479.25 L346.09,479.54 L346.15,479.79 L346.20,480.00" fill="none" stroke="#4a3f25" stroke-width="1.0" stroke-dasharray="1.6 1.1"/>
</g>
<rect x="219.20" y="398.60" width="129.20" height="81.40" fill="none" stroke="#5a5a5a" stroke-width="1.0"/>
<line x1="219.00" y1="398.60" x2="219.00" y2="480.00" stroke="#6a6a6a" stroke-width="1.4" />
<line x1="219.20" y1="480.00" x2="348.40" y2="480.00" stroke="#6e3a6e" stroke-width="1.4" />
<line x1="216.00" y1="409.60" x2="219.20" y2="409.60" stroke="#555" stroke-width="0.9" />
<text x="0" y="0" font-size="5.2" font-weight="bold" fill="#111" stroke="#111" stroke-width="0.3" textLength="9.53" lengthAdjust="spacing" transform="translate(198.30 411.50) scale(1.5 1)">500</text>
<line x1="216.00" y1="423.68" x2="219.20" y2="423.68" stroke="#555" stroke-width="0.9" />
<text x="0" y="0" font-size="5.2" font-weight="bold" fill="#111" stroke="#111" stroke-width="0.3" textLength="9.53" lengthAdjust="spacing" transform="translate(198.30 425.58) scale(1.5 1)">400</text>
<line x1="216.00" y1="437.76" x2="219.20" y2="437.76" stroke="#555" stroke-width="0.9" />
<text x="0" y="0" font-size="5.2" font-weight="bold" fill="#111" stroke="#111" stroke-width="0.3" textLength="9.53" lengthAdjust="spacing" transform="translate(198.30 439.66) scale(1.5 1)">300</text>
<line x1="216.00" y1="451.84" x2="219.20" y2="451.84" stroke="#555" stroke-width="0.9" />
<text x="0" y="0" font-size="5.2" font-weight="bold" fill="#111" stroke="#111" stroke-width="0.3" textLength="9.53" lengthAdjust="spacing" transform="translate(198.30 453.74) scale(1.5 1)">200</text>
<line x1="216.00" y1="465.92" x2="219.20" y2="465.92" stroke="#555" stroke-width="0.9" />
<text x="0" y="0" font-size="5.2" font-weight="bold" fill="#111" stroke="#111" stroke-width="0.3" textLength="9.53" lengthAdjust="spacing" transform="translate(198.30 467.82) scale(1.5 1)">100</text>
<line x1="216.00" y1="480.00" x2="219.20" y2="480.00" stroke="#555" stroke-width="0.9" />
<text x="0" y="0" font-size="5.2" font-weight="bold" fill="#111" stroke="#111" stroke-width="0.3" textLength="2.60" lengthAdjust="spacing" transform="translate(208.70 481.90) scale(1.5 1)">0</text>
<line x1="217.60" y1="477.18" x2="219.20" y2="477.18" stroke="#8a8a8a" stroke-width="0.6" />
<line x1="217.60" y1="474.37" x2="219.20" y2="474.37" stroke="#8a8a8a" stroke-width="0.6" />
<line x1="217.60" y1="471.55" x2="219.20" y2="471.55" stroke="#8a8a8a" stroke-width="0.6" />
<line x1="217.60" y1="468.74" x2="219.20" y2="468.74" stroke="#8a8a8a" stroke-width="0.6" />
<line x1="217.60" y1="463.10" x2="219.20" y2="463.10" stroke="#8a8a8a" stroke-width="0.6" />
<line x1="217.60" y1="460.29" x2="219.20" y2="460.29" stroke="#8a8a8a" stroke-width="0.6" />
<line x1="217.60" y1="457.47" x2="219.20" y2="457.47" stroke="#8a8a8a" stroke-width="0.6" />
<line x1="217.60" y1="454.66" x2="219.20" y2="454.66" stroke="#8a8a8a" stroke-width="0.6" />
<line x1="217.60" y1="449.02" x2="219.20" y2="449.02" stroke="#8a8a8a" stroke-width="0.6" />
<line x1="217.60" y1="446.21" x2="219.20" y2="446.21" stroke="#8a8a8a" stroke-width="0.6" />
<line x1="217.60" y1="443.39" x2="219.20" y2="443.39" stroke="#8a8a8a" stroke-width="0.6" />
<line x1="217.60" y1="440.58" x2="219.20" y2="440.58" stroke="#8a8a8a" stroke-width="0.6" />
<line x1="217.60" y1="434.94" x2="219.20" y2="434.94" stroke="#8a8a8a" stroke-width="0.6" />
<line x1="217.60" y1="432.13" x2="219.20" y2="432.13" stroke="#8a8a8a" stroke-width="0.6" />
<line x1="217.60" y1="429.31" x2="219.20" y2="429.31" stroke="#8a8a8a" stroke-width="0.6" />
<line x1="217.60" y1="426.50" x2="219.20" y2="426.50" stroke="#8a8a8a" stroke-width="0.6" />
<line x1="217.60" y1="420.86" x2="219.20" y2="420.86" stroke="#8a8a8a" stroke-width="0.6" />
<line x1="217.60" y1="418.05" x2="219.20" y2="418.05" stroke="#8a8a8a" stroke-width="0.6" />
<line x1="217.60" y1="415.23" x2="219.20" y2="415.23" stroke="#8a8a8a" stroke-width="0.6" />
<line x1="217.60" y1="412.42" x2="219.20" y2="412.42" stroke="#8a8a8a" stroke-width="0.6" />
<line x1="217.60" y1="406.78" x2="219.20" y2="406.78" stroke="#8a8a8a" stroke-width="0.6" />
<line x1="217.60" y1="403.97" x2="219.20" y2="403.97" stroke="#8a8a8a" stroke-width="0.6" />
<line x1="217.60" y1="401.15" x2="219.20" y2="401.15" stroke="#8a8a8a" stroke-width="0.6" />
<line x1="228.92" y1="480.00" x2="228.92" y2="481.60" stroke="#999" stroke-width="0.6" />
<line x1="234.61" y1="480.00" x2="234.61" y2="481.60" stroke="#999" stroke-width="0.6" />
<line x1="238.65" y1="480.00" x2="238.65" y2="481.60" stroke="#999" stroke-width="0.6" />
<line x1="241.78" y1="480.00" x2="241.78" y2="481.60" stroke="#999" stroke-width="0.6" />
<line x1="244.33" y1="480.00" x2="244.33" y2="481.60" stroke="#999" stroke-width="0.6" />
<line x1="246.50" y1="480.00" x2="246.50" y2="481.60" stroke="#999" stroke-width="0.6" />
<line x1="248.37" y1="480.00" x2="248.37" y2="481.60" stroke="#999" stroke-width="0.6" />
<line x1="250.02" y1="480.00" x2="250.02" y2="481.60" stroke="#999" stroke-width="0.6" />
<line x1="261.22" y1="480.00" x2="261.22" y2="481.60" stroke="#999" stroke-width="0.6" />
<line x1="266.91" y1="480.00" x2="266.91" y2="481.60" stroke="#999" stroke-width="0.6" />
<line x1="270.95" y1="480.00" x2="270.95" y2="481.60" stroke="#999" stroke-width="0.6" />
<line x1="274.08" y1="480.00" x2="274.08" y2="481.60" stroke="#999" stroke-width="0.6" />
<line x1="276.63" y1="480.00" x2="276.63" y2="481.60" stroke="#999" stroke-width="0.6" />
<line x1="278.80" y1="480.00" x2="278.80" y2="481.60" stroke="#999" stroke-width="0.6" />
<line x1="280.67" y1="480.00" x2="280.67" y2="481.60" stroke="#999" stroke-width="0.6" />
<line x1="282.32" y1="480.00" x2="282.32" y2="481.60" stroke="#999" stroke-width="0.6" />
<line x1="293.52" y1="480.00" x2="293.52" y2="481.60" stroke="#999" stroke-width="0.6" />
<line x1="299.21" y1="480.00" x2="299.21" y2="481.60" stroke="#999" stroke-width="0.6" />
<line x1="303.25" y1="480.00" x2="303.25" y2="481.60" stroke="#999" stroke-width="0.6" />
<line x1="306.38" y1="480.00" x2="306.38" y2="481.60" stroke="#999" stroke-width="0.6" />
<line x1="308.93" y1="480.00" x2="308.93" y2="481.60" stroke="#999" stroke-width="0.6" />
<line x1="311.10" y1="480.00" x2="311.10" y2="481.60" stroke="#999" stroke-width="0.6" />
<line x1="312.97" y1="480.00" x2="312.97" y2="481.60" stroke="#999" stroke-width="0.6" />
<line x1="314.62" y1="480.00" x2="314.62" y2="481.60" stroke="#999" stroke-width="0.6" />
<line x1="325.82" y1="480.00" x2="325.82" y2="481.60" stroke="#999" stroke-width="0.6" />
<line x1="331.51" y1="480.00" x2="331.51" y2="481.60" stroke="#999" stroke-width="0.6" />
<line x1="335.55" y1="480.00" x2="335.55" y2="481.60" stroke="#999" stroke-width="0.6" />
<line x1="338.68" y1="480.00" x2="338.68" y2="481.60" stroke="#999" stroke-width="0.6" />
<line x1="341.23" y1="480.00" x2="341.23" y2="481.60" stroke="#999" stroke-width="0.6" />
<line x1="343.40" y1="480.00" x2="343.40" y2="481.60" stroke="#999" stroke-width="0.6" />
<line x1="345.27" y1="480.00" x2="345.27" y2="481.60" stroke="#999" stroke-width="0.6" />
<line x1="346.92" y1="480.00" x2="346.92" y2="481.60" stroke="#999" stroke-width="0.6" />
<line x1="219.20" y1="480.00" x2="219.20" y2="482.40" stroke="#777" stroke-width="0.8" />
<line x1="251.50" y1="480.00" x2="251.50" y2="482.40" stroke="#777" stroke-width="0.8" />
<line x1="283.80" y1="480.00" x2="283.80" y2="482.40" stroke="#777" stroke-width="0.8" />
<line x1="316.10" y1="480.00" x2="316.10" y2="482.40" stroke="#777" stroke-width="0.8" />
<line x1="348.40" y1="480.00" x2="348.40" y2="482.40" stroke="#777" stroke-width="0.8" />
<text x="0" y="0" font-size="5.0" font-weight="bold" fill="#111" stroke="#111" stroke-width="0.3" textLength="5.94" lengthAdjust="spacing" transform="translate(222.20 489.30) scale(1.55 1)">10</text>
<text x="0" y="0" font-size="4.5" font-weight="bold" fill="#111" stroke="#111" stroke-width="0.3" textLength="2.92" lengthAdjust="spacing" transform="translate(232.40 485.30) scale(1.2 1)">0</text>
<text x="0" y="0" font-size="5.0" font-weight="bold" fill="#111" stroke="#111" stroke-width="0.3" textLength="5.94" lengthAdjust="spacing" transform="translate(247.40 489.30) scale(1.55 1)">10</text>
<text x="0" y="0" font-size="4.5" font-weight="bold" fill="#111" stroke="#111" stroke-width="0.3" textLength="2.92" lengthAdjust="spacing" transform="translate(257.60 485.30) scale(1.2 1)">1</text>
<text x="0" y="0" font-size="5.0" font-weight="bold" fill="#111" stroke="#111" stroke-width="0.3" textLength="5.94" lengthAdjust="spacing" transform="translate(277.40 489.30) scale(1.55 1)">10</text>
<text x="0" y="0" font-size="4.5" font-weight="bold" fill="#111" stroke="#111" stroke-width="0.3" textLength="2.92" lengthAdjust="spacing" transform="translate(287.60 485.30) scale(1.2 1)">2</text>
<text x="0" y="0" font-size="5.0" font-weight="bold" fill="#111" stroke="#111" stroke-width="0.3" textLength="5.94" lengthAdjust="spacing" transform="translate(306.80 489.30) scale(1.55 1)">10</text>
<text x="0" y="0" font-size="4.5" font-weight="bold" fill="#111" stroke="#111" stroke-width="0.3" textLength="2.92" lengthAdjust="spacing" transform="translate(317.00 485.30) scale(1.2 1)">3</text>
<text x="0" y="0" font-size="5.0" font-weight="bold" fill="#111" stroke="#111" stroke-width="0.3" textLength="5.94" lengthAdjust="spacing" transform="translate(335.40 489.30) scale(1.55 1)">10</text>
<text x="0" y="0" font-size="4.5" font-weight="bold" fill="#111" stroke="#111" stroke-width="0.3" textLength="2.92" lengthAdjust="spacing" transform="translate(345.60 485.30) scale(1.2 1)">4</text>
<text x="226.00" y="407.20" font-size="9.3" font-weight="bold" fill="#000" stroke="#000" stroke-width="0.35" textLength="93.00" lengthAdjust="spacingAndGlyphs" >cells in generation&gt;1</text>
<text x="269.70" y="430.40" font-size="9.5" font-weight="bold" fill="#000" stroke="#000" stroke-width="0.3" textLength="21.50" lengthAdjust="spacingAndGlyphs" >0.2%</text>
<text x="196.30" y="446.00" font-size="9.5" font-weight="bold" fill="#000" stroke="#000" stroke-width="0.4" text-anchor="middle" textLength="45.50" lengthAdjust="spacingAndGlyphs" transform="rotate(-90 196.30 446.00)" >Cell count</text>
<rect x="383.30" y="398.60" width="129.00" height="81.10" fill="#fff" stroke="none"/>
<clipPath id="c140218181574144"><rect x="383.30" y="398.60" width="129.00" height="81.10"/></clipPath>
<g clip-path="url(#c140218181574144)">
<path d="M484.50,479.70 L484.69,479.52 L484.95,479.33 L485.25,479.11 L485.59,478.83 L485.95,478.49 L486.32,478.07 L486.67,477.54 L487.00,476.90 L487.32,476.20 L487.63,475.47 L487.96,474.68 L488.28,473.79 L488.59,472.76 L488.90,471.54 L489.21,470.10 L489.50,468.40 L489.78,466.37 L490.06,464.01 L490.33,461.41 L490.60,458.64 L490.86,455.77 L491.11,452.87 L491.36,450.02 L491.60,447.30 L491.83,444.67 L492.05,442.06 L492.26,439.45 L492.47,436.84 L492.67,434.22 L492.88,431.58 L493.09,428.91 L493.30,426.20 L493.52,423.14 L493.73,419.60 L493.95,415.85 L494.17,412.17 L494.39,408.83 L494.62,406.11 L494.86,404.27 L495.10,403.60 L495.36,404.27 L495.64,406.11 L495.92,408.83 L496.21,412.17 L496.50,415.85 L496.78,419.60 L497.05,423.14 L497.30,426.20 L497.53,428.96 L497.75,431.74 L497.96,434.53 L498.16,437.28 L498.35,439.97 L498.54,442.55 L498.72,445.01 L498.90,447.30 L499.08,449.44 L499.25,451.45 L499.41,453.34 L499.57,455.13 L499.73,456.82 L499.88,458.43 L500.04,459.95 L500.20,461.40 L500.36,462.75 L500.53,463.97 L500.69,465.10 L500.86,466.14 L501.02,467.13 L501.18,468.09 L501.34,469.04 L501.50,470.00 L501.66,470.98 L501.82,471.96 L501.98,472.93 L502.14,473.87 L502.30,474.76 L502.44,475.59 L502.58,476.34 L502.70,477.00 L502.81,477.56 L502.91,478.04 L503.00,478.45 L503.07,478.79 L503.15,479.07 L503.21,479.32 L503.26,479.52 L503.30,479.70 Z" fill="#f5858a" fill-opacity="1.0" stroke="none"/>
<path d="M481.60,479.70 L481.60,479.70 L481.76,479.70 L481.92,479.70 L482.08,479.70 L482.24,479.69 L482.40,479.69 L482.56,479.69 L482.72,479.68 L482.88,479.67 L483.04,479.66 L483.20,479.65 L483.36,479.63 L483.52,479.61 L483.68,479.58 L483.84,479.55 L484.00,479.50 L484.16,479.45 L484.32,479.38 L484.48,479.30 L484.64,479.20 L484.80,479.09 L484.96,478.96 L485.12,478.81 L485.28,478.64 L485.44,478.45 L485.60,478.24 L485.76,478.01 L485.92,477.77 L486.08,477.51 L486.24,477.24 L486.40,476.97 L486.56,476.70 L486.72,476.43 L486.88,476.18 L487.04,475.94 L487.20,475.73 L487.36,475.55 L487.52,475.40 L487.68,475.29 L487.84,475.22 L488.00,475.20 L488.16,475.22 L488.32,475.29 L488.48,475.40 L488.64,475.55 L488.80,475.73 L488.96,475.94 L489.12,476.18 L489.28,476.43 L489.44,476.70 L489.60,476.97 L489.76,477.24 L489.92,477.51 L490.08,477.77 L490.24,478.01 L490.40,478.24 L490.56,478.45 L490.72,478.64 L490.88,478.81 L491.04,478.96 L491.20,479.09 L491.36,479.20 L491.52,479.30 L491.68,479.38 L491.84,479.45 L492.00,479.50 L492.16,479.55 L492.32,479.58 L492.48,479.61 L492.64,479.63 L492.80,479.65 L492.96,479.66 L493.12,479.67 L493.28,479.68 L493.44,479.69 L493.60,479.69 L493.76,479.69 L493.92,479.70 L494.08,479.70 L494.24,479.70 L494.40,479.70 L494.40,479.70 Z" fill="#f05cf0" fill-opacity="0.85" stroke="none"/>
<path d="M383.00,479.70 L390.94,479.70 L402.18,479.71 L415.62,479.73 L430.19,479.74 L444.79,479.74 L458.35,479.74 L469.78,479.73 L478.00,479.70 L482.94,479.66 L485.60,479.63 L486.51,479.59 L486.19,479.54 L485.15,479.47 L483.93,479.38 L483.04,479.26 L483.00,479.10 L483.56,478.94 L484.11,478.81 L484.64,478.67 L485.16,478.49 L485.65,478.26 L486.13,477.93 L486.58,477.49 L487.00,476.90 L487.39,476.23 L487.74,475.51 L488.06,474.73 L488.37,473.83 L488.66,472.79 L488.94,471.56 L489.22,470.11 L489.50,468.40 L489.78,466.37 L490.06,464.01 L490.33,461.41 L490.60,458.64 L490.86,455.77 L491.11,452.87 L491.36,450.02 L491.60,447.30 L491.83,444.67 L492.05,442.06 L492.26,439.45 L492.47,436.84 L492.67,434.22 L492.88,431.58 L493.09,428.91 L493.30,426.20 L493.52,423.14 L493.73,419.60 L493.95,415.85 L494.17,412.17 L494.39,408.83 L494.62,406.11 L494.86,404.27 L495.10,403.60 L495.36,404.27 L495.64,406.11 L495.92,408.83 L496.21,412.17 L496.50,415.85 L496.78,419.60 L497.05,423.14 L497.30,426.20 L497.53,428.96 L497.74,431.74 L497.95,434.53 L498.14,437.28 L498.33,439.97 L498.52,442.55 L498.71,445.01 L498.90,447.30 L499.09,449.44 L499.27,451.46 L499.44,453.36 L499.62,455.16 L499.80,456.86 L499.99,458.46 L500.18,459.97 L500.40,461.40 L500.63,462.74 L500.87,463.98 L501.11,465.12 L501.37,466.17 L501.63,467.14 L501.91,468.01 L502.20,468.80 L502.50,469.50 L502.81,470.08 L503.13,470.53 L503.47,470.87 L503.81,471.13 L504.17,471.35 L504.53,471.54 L504.91,471.75 L505.30,472.00 L505.71,472.26 L506.16,472.50 L506.62,472.72 L507.09,472.94 L507.55,473.16 L508.00,473.41 L508.42,473.68 L508.80,474.00 L509.14,474.37 L509.46,474.80 L509.75,475.26 L510.03,475.74 L510.28,476.22 L510.53,476.68 L510.77,477.11 L511.00,477.50 L511.23,477.85 L511.46,478.19 L511.68,478.52 L511.89,478.82 L512.08,479.09 L512.25,479.34 L512.39,479.54 L512.50,479.70" fill="none" stroke="#3c3c3c" stroke-width="0.95"/>
<path d="M484.50,479.70 L484.69,479.52 L484.95,479.33 L485.25,479.11 L485.59,478.83 L485.95,478.49 L486.32,478.07 L486.67,477.54 L487.00,476.90 L487.32,476.20 L487.63,475.47 L487.96,474.68 L488.28,473.79 L488.59,472.76 L488.90,471.54 L489.21,470.10 L489.50,468.40 L489.78,466.37 L490.06,464.01 L490.33,461.41 L490.60,458.64 L490.86,455.77 L491.11,452.87 L491.36,450.02 L491.60,447.30 L491.83,444.67 L492.05,442.06 L492.26,439.45 L492.47,436.84 L492.67,434.22 L492.88,431.58 L493.09,428.91 L493.30,426.20 L493.52,423.14 L493.73,419.60 L493.95,415.85 L494.17,412.17 L494.39,408.83 L494.62,406.11 L494.86,404.27 L495.10,403.60 L495.36,404.27 L495.64,406.11 L495.92,408.83 L496.21,412.17 L496.50,415.85 L496.78,419.60 L497.05,423.14 L497.30,426.20 L497.53,428.96 L497.75,431.74 L497.96,434.53 L498.16,437.28 L498.35,439.97 L498.54,442.55 L498.72,445.01 L498.90,447.30 L499.08,449.44 L499.25,451.45 L499.41,453.34 L499.57,455.13 L499.73,456.82 L499.88,458.43 L500.04,459.95 L500.20,461.40 L500.36,462.75 L500.53,463.97 L500.69,465.10 L500.86,466.14 L501.02,467.13 L501.18,468.09 L501.34,469.04 L501.50,470.00 L501.66,470.98 L501.82,471.96 L501.98,472.93 L502.14,473.87 L502.30,474.76 L502.44,475.59 L502.58,476.34 L502.70,477.00 L502.81,477.56 L502.91,478.04 L503.00,478.45 L503.07,478.79 L503.15,479.07 L503.21,479.32 L503.26,479.52 L503.30,479.70" fill="none" stroke="#4a3f25" stroke-width="1.0" stroke-dasharray="1.6 1.1"/>
</g>
<rect x="383.30" y="398.60" width="129.00" height="81.10" fill="none" stroke="#5a5a5a" stroke-width="1.0"/>
<line x1="383.10" y1="398.60" x2="383.10" y2="479.70" stroke="#6a6a6a" stroke-width="1.4" />
<line x1="383.30" y1="479.70" x2="512.30" y2="479.70" stroke="#6e3a6e" stroke-width="1.4" />
<line x1="380.10" y1="410.95" x2="383.30" y2="410.95" stroke="#555" stroke-width="0.9" />
<text x="0" y="0" font-size="5.2" font-weight="bold" fill="#111" stroke="#111" stroke-width="0.3" textLength="9.53" lengthAdjust="spacing" transform="translate(362.50 412.85) scale(1.5 1)">500</text>
<line x1="380.10" y1="424.70" x2="383.30" y2="424.70" stroke="#555" stroke-width="0.9" />
<text x="0" y="0" font-size="5.2" font-weight="bold" fill="#111" stroke="#111" stroke-width="0.3" textLength="9.53" lengthAdjust="spacing" transform="translate(362.50 426.60) scale(1.5 1)">400</text>
<line x1="380.10" y1="438.45" x2="383.30" y2="438.45" stroke="#555" stroke-width="0.9" />
<text x="0" y="0" font-size="5.2" font-weight="bold" fill="#111" stroke="#111" stroke-width="0.3" textLength="9.53" lengthAdjust="spacing" transform="translate(362.50 440.35) scale(1.5 1)">300</text>
<line x1="380.10" y1="452.20" x2="383.30" y2="452.20" stroke="#555" stroke-width="0.9" />
<text x="0" y="0" font-size="5.2" font-weight="bold" fill="#111" stroke="#111" stroke-width="0.3" textLength="9.53" lengthAdjust="spacing" transform="translate(362.50 454.10) scale(1.5 1)">200</text>
<line x1="380.10" y1="465.95" x2="383.30" y2="465.95" stroke="#555" stroke-width="0.9" />
<text x="0" y="0" font-size="5.2" font-weight="bold" fill="#111" stroke="#111" stroke-width="0.3" textLength="9.53" lengthAdjust="spacing" transform="translate(362.50 467.85) scale(1.5 1)">100</text>
<line x1="380.10" y1="479.70" x2="383.30" y2="479.70" stroke="#555" stroke-width="0.9" />
<text x="0" y="0" font-size="5.2" font-weight="bold" fill="#111" stroke="#111" stroke-width="0.3" textLength="2.60" lengthAdjust="spacing" transform="translate(372.90 481.60) scale(1.5 1)">0</text>
<line x1="381.70" y1="476.95" x2="383.30" y2="476.95" stroke="#8a8a8a" stroke-width="0.6" />
<line x1="381.70" y1="474.20" x2="383.30" y2="474.20" stroke="#8a8a8a" stroke-width="0.6" />
<line x1="381.70" y1="471.45" x2="383.30" y2="471.45" stroke="#8a8a8a" stroke-width="0.6" />
<line x1="381.70" y1="468.70" x2="383.30" y2="468.70" stroke="#8a8a8a" stroke-width="0.6" />
<line x1="381.70" y1="463.20" x2="383.30" y2="463.20" stroke="#8a8a8a" stroke-width="0.6" />
<line x1="381.70" y1="460.45" x2="383.30" y2="460.45" stroke="#8a8a8a" stroke-width="0.6" />
<line x1="381.70" y1="457.70" x2="383.30" y2="457.70" stroke="#8a8a8a" stroke-width="0.6" />
<line x1="381.70" y1="454.95" x2="383.30" y2="454.95" stroke="#8a8a8a" stroke-width="0.6" />
<line x1="381.70" y1="449.45" x2="383.30" y2="449.45" stroke="#8a8a8a" stroke-width="0.6" />
<line x1="381.70" y1="446.70" x2="383.30" y2="446.70" stroke="#8a8a8a" stroke-width="0.6" />
<line x1="381.70" y1="443.95" x2="383.30" y2="443.95" stroke="#8a8a8a" stroke-width="0.6" />
<line x1="381.70" y1="441.20" x2="383.30" y2="441.20" stroke="#8a8a8a" stroke-width="0.6" />
<line x1="381.70" y1="435.70" x2="383.30" y2="435.70" stroke="#8a8a8a" stroke-width="0.6" />
<line x1="381.70" y1="432.95" x2="383.30" y2="432.95" stroke="#8a8a8a" stroke-width="0.6" />
<line x1="381.70" y1="430.20" x2="383.30" y2="430.20" stroke="#8a8a8a" stroke-width="0.6" />
<line x1="381.70" y1="427.45" x2="383.30" y2="427.45" stroke="#8a8a8a" stroke-width="0.6" />
<line x1="381.70" y1="421.95" x2="383.30" y2="421.95" stroke="#8a8a8a" stroke-width="0.6" />
<line x1="381.70" y1="419.20" x2="383.30" y2="419.20" stroke="#8a8a8a" stroke-width="0.6" />
<line x1="381.70" y1="416.45" x2="383.30" y2="416.45" stroke="#8a8a8a" stroke-width="0.6" />
<line x1="381.70" y1="413.70" x2="383.30" y2="413.70" stroke="#8a8a8a" stroke-width="0.6" />
<line x1="381.70" y1="408.20" x2="383.30" y2="408.20" stroke="#8a8a8a" stroke-width="0.6" />
<line x1="381.70" y1="405.45" x2="383.30" y2="405.45" stroke="#8a8a8a" stroke-width="0.6" />
<line x1="381.70" y1="402.70" x2="383.30" y2="402.70" stroke="#8a8a8a" stroke-width="0.6" />
<line x1="381.70" y1="399.95" x2="383.30" y2="399.95" stroke="#8a8a8a" stroke-width="0.6" />
<line x1="393.01" y1="479.70" x2="393.01" y2="481.30" stroke="#999" stroke-width="0.6" />
<line x1="398.69" y1="479.70" x2="398.69" y2="481.30" stroke="#999" stroke-width="0.6" />
<line x1="402.72" y1="479.70" x2="402.72" y2="481.30" stroke="#999" stroke-width="0.6" />
<line x1="405.84" y1="479.70" x2="405.84" y2="481.30" stroke="#999" stroke-width="0.6" />
<line x1="408.40" y1="479.70" x2="408.40" y2="481.30" stroke="#999" stroke-width="0.6" />
<line x1="410.55" y1="479.70" x2="410.55" y2="481.30" stroke="#999" stroke-width="0.6" />
<line x1="412.42" y1="479.70" x2="412.42" y2="481.30" stroke="#999" stroke-width="0.6" />
<line x1="414.07" y1="479.70" x2="414.07" y2="481.30" stroke="#999" stroke-width="0.6" />
<line x1="425.26" y1="479.70" x2="425.26" y2="481.30" stroke="#999" stroke-width="0.6" />
<line x1="430.94" y1="479.70" x2="430.94" y2="481.30" stroke="#999" stroke-width="0.6" />
<line x1="434.97" y1="479.70" x2="434.97" y2="481.30" stroke="#999" stroke-width="0.6" />
<line x1="438.09" y1="479.70" x2="438.09" y2="481.30" stroke="#999" stroke-width="0.6" />
<line x1="440.65" y1="479.70" x2="440.65" y2="481.30" stroke="#999" stroke-width="0.6" />
<line x1="442.80" y1="479.70" x2="442.80" y2="481.30" stroke="#999" stroke-width="0.6" />
<line x1="444.67" y1="479.70" x2="444.67" y2="481.30" stroke="#999" stroke-width="0.6" />
<line x1="446.32" y1="479.70" x2="446.32" y2="481.30" stroke="#999" stroke-width="0.6" />
<line x1="457.51" y1="479.70" x2="457.51" y2="481.30" stroke="#999" stroke-width="0.6" />
<line x1="463.19" y1="479.70" x2="463.19" y2="481.30" stroke="#999" stroke-width="0.6" />
<line x1="467.22" y1="479.70" x2="467.22" y2="481.30" stroke="#999" stroke-width="0.6" />
<line x1="470.34" y1="479.70" x2="470.34" y2="481.30" stroke="#999" stroke-width="0.6" />
<line x1="472.90" y1="479.70" x2="472.90" y2="481.30" stroke="#999" stroke-width="0.6" />
<line x1="475.05" y1="479.70" x2="475.05" y2="481.30" stroke="#999" stroke-width="0.6" />
<line x1="476.92" y1="479.70" x2="476.92" y2="481.30" stroke="#999" stroke-width="0.6" />
<line x1="478.57" y1="479.70" x2="478.57" y2="481.30" stroke="#999" stroke-width="0.6" />
<line x1="489.76" y1="479.70" x2="489.76" y2="481.30" stroke="#999" stroke-width="0.6" />
<line x1="495.44" y1="479.70" x2="495.44" y2="481.30" stroke="#999" stroke-width="0.6" />
<line x1="499.47" y1="479.70" x2="499.47" y2="481.30" stroke="#999" stroke-width="0.6" />
<line x1="502.59" y1="479.70" x2="502.59" y2="481.30" stroke="#999" stroke-width="0.6" />
<line x1="505.15" y1="479.70" x2="505.15" y2="481.30" stroke="#999" stroke-width="0.6" />
<line x1="507.30" y1="479.70" x2="507.30" y2="481.30" stroke="#999" stroke-width="0.6" />
<line x1="509.17" y1="479.70" x2="509.17" y2="481.30" stroke="#999" stroke-width="0.6" />
<line x1="510.82" y1="479.70" x2="510.82" y2="481.30" stroke="#999" stroke-width="0.6" />
<line x1="383.30" y1="479.70" x2="383.30" y2="482.10" stroke="#777" stroke-width="0.8" />
<line x1="415.55" y1="479.70" x2="415.55" y2="482.10" stroke="#777" stroke-width="0.8" />
<line x1="447.80" y1="479.70" x2="447.80" y2="482.10" stroke="#777" stroke-width="0.8" />
<line x1="480.05" y1="479.70" x2="480.05" y2="482.10" stroke="#777" stroke-width="0.8" />
<line x1="512.30" y1="479.70" x2="512.30" y2="482.10" stroke="#777" stroke-width="0.8" />
<text x="0" y="0" font-size="5.0" font-weight="bold" fill="#111" stroke="#111" stroke-width="0.3" textLength="5.94" lengthAdjust="spacing" transform="translate(386.30 489.00) scale(1.55 1)">10</text>
<text x="0" y="0" font-size="4.5" font-weight="bold" fill="#111" stroke="#111" stroke-width="0.3" textLength="2.92" lengthAdjust="spacing" transform="translate(396.50 485.00) scale(1.2 1)">0</text>
<text x="0" y="0" font-size="5.0" font-weight="bold" fill="#111" stroke="#111" stroke-width="0.3" textLength="5.94" lengthAdjust="spacing" transform="translate(411.50 489.00) scale(1.55 1)">10</text>
<text x="0" y="0" font-size="4.5" font-weight="bold" fill="#111" stroke="#111" stroke-width="0.3" textLength="2.92" lengthAdjust="spacing" transform="translate(421.70 485.00) scale(1.2 1)">1</text>
<text x="0" y="0" font-size="5.0" font-weight="bold" fill="#111" stroke="#111" stroke-width="0.3" textLength="5.94" lengthAdjust="spacing" transform="translate(441.50 489.00) scale(1.55 1)">10</text>
<text x="0" y="0" font-size="4.5" font-weight="bold" fill="#111" stroke="#111" stroke-width="0.3" textLength="2.92" lengthAdjust="spacing" transform="translate(451.70 485.00) scale(1.2 1)">2</text>
<text x="0" y="0" font-size="5.0" font-weight="bold" fill="#111" stroke="#111" stroke-width="0.3" textLength="5.94" lengthAdjust="spacing" transform="translate(470.90 489.00) scale(1.55 1)">10</text>
<text x="0" y="0" font-size="4.5" font-weight="bold" fill="#111" stroke="#111" stroke-width="0.3" textLength="2.92" lengthAdjust="spacing" transform="translate(481.10 485.00) scale(1.2 1)">3</text>
<text x="0" y="0" font-size="5.0" font-weight="bold" fill="#111" stroke="#111" stroke-width="0.3" textLength="5.94" lengthAdjust="spacing" transform="translate(499.50 489.00) scale(1.55 1)">10</text>
<text x="0" y="0" font-size="4.5" font-weight="bold" fill="#111" stroke="#111" stroke-width="0.3" textLength="2.92" lengthAdjust="spacing" transform="translate(509.70 485.00) scale(1.2 1)">4</text>
<text x="390.00" y="407.20" font-size="9.3" font-weight="bold" fill="#000" stroke="#000" stroke-width="0.35" textLength="93.00" lengthAdjust="spacingAndGlyphs" >cells in generation&gt;1</text>
<text x="445.50" y="430.40" font-size="9.5" font-weight="bold" fill="#000" stroke="#000" stroke-width="0.3" textLength="21.70" lengthAdjust="spacingAndGlyphs" >0.9%</text>
<text x="360.30" y="446.00" font-size="9.5" font-weight="bold" fill="#000" stroke="#000" stroke-width="0.4" text-anchor="middle" textLength="45.50" lengthAdjust="spacingAndGlyphs" transform="rotate(-90 360.30 446.00)" >Cell count</text>
<rect x="57.50" y="504.00" width="128.50" height="81.80" fill="#fff" stroke="none"/>
<clipPath id="c140218181573760"><rect x="57.50" y="504.00" width="128.50" height="81.80"/></clipPath>
<g clip-path="url(#c140218181573760)">
<path d="M140.50,585.80 L140.50,585.79 L140.75,585.79 L141.00,585.79 L141.25,585.78 L141.50,585.77 L141.75,585.76 L142.00,585.74 L142.25,585.72 L142.50,585.69 L142.75,585.65 L143.00,585.59 L143.25,585.52 L143.50,585.43 L143.75,585.31 L144.00,585.16 L144.25,584.98 L144.50,584.75 L144.75,584.47 L145.00,584.14 L145.25,583.74 L145.50,583.27 L145.75,582.72 L146.00,582.10 L146.25,581.39 L146.50,580.60 L146.75,579.73 L147.00,578.78 L147.25,577.77 L147.50,576.70 L147.75,575.59 L148.00,574.46 L148.25,573.33 L148.50,572.22 L148.75,571.16 L149.00,570.18 L149.25,569.30 L149.50,568.54 L149.75,567.92 L150.00,567.47 L150.25,567.19 L150.50,567.10 L150.75,567.19 L151.00,567.47 L151.25,567.92 L151.50,568.54 L151.75,569.30 L152.00,570.18 L152.25,571.16 L152.50,572.22 L152.75,573.33 L153.00,574.46 L153.25,575.59 L153.50,576.70 L153.75,577.77 L154.00,578.78 L154.25,579.73 L154.50,580.60 L154.75,581.39 L155.00,582.10 L155.25,582.72 L155.50,583.27 L155.75,583.74 L156.00,584.14 L156.25,584.47 L156.50,584.75 L156.75,584.98 L157.00,585.16 L157.25,585.31 L157.50,585.43 L157.75,585.52 L158.00,585.59 L158.25,585.65 L158.50,585.69 L158.75,585.72 L159.00,585.74 L159.25,585.76 L159.50,585.77 L159.75,585.78 L160.00,585.79 L160.25,585.79 L160.50,585.79 L160.50,585.80 Z" fill="#f05cf0" fill-opacity="0.75" stroke="none"/>
<path d="M145.10,585.80 L145.10,585.79 L145.42,585.79 L145.74,585.78 L146.06,585.77 L146.38,585.76 L146.70,585.74 L147.02,585.72 L147.34,585.68 L147.66,585.64 L147.98,585.57 L148.30,585.49 L148.62,585.39 L148.94,585.25 L149.26,585.08 L149.58,584.86 L149.90,584.59 L150.22,584.26 L150.54,583.85 L150.86,583.35 L151.18,582.77 L151.50,582.08 L151.82,581.28 L152.14,580.36 L152.46,579.32 L152.78,578.15 L153.10,576.87 L153.42,575.48 L153.74,573.99 L154.06,572.41 L154.38,570.78 L154.70,569.12 L155.02,567.46 L155.34,565.83 L155.66,564.28 L155.98,562.83 L156.30,561.53 L156.62,560.41 L156.94,559.51 L157.26,558.84 L157.58,558.44 L157.90,558.30 L158.22,558.44 L158.54,558.84 L158.86,559.51 L159.18,560.41 L159.50,561.53 L159.82,562.83 L160.14,564.28 L160.46,565.83 L160.78,567.46 L161.10,569.12 L161.42,570.78 L161.74,572.41 L162.06,573.99 L162.38,575.48 L162.70,576.87 L163.02,578.15 L163.34,579.32 L163.66,580.36 L163.98,581.28 L164.30,582.08 L164.62,582.77 L164.94,583.35 L165.26,583.85 L165.58,584.26 L165.90,584.59 L166.22,584.86 L166.54,585.08 L166.86,585.25 L167.18,585.39 L167.50,585.49 L167.82,585.57 L168.14,585.64 L168.46,585.68 L168.78,585.72 L169.10,585.74 L169.42,585.76 L169.74,585.77 L170.06,585.78 L170.38,585.79 L170.70,585.79 L170.70,585.80 Z" fill="#f05cf0" fill-opacity="0.75" stroke="none"/>
<path d="M153.20,585.80 L153.20,585.77 L153.52,585.76 L153.84,585.74 L154.16,585.72 L154.48,585.68 L154.80,585.63 L155.12,585.57 L155.44,585.47 L155.76,585.35 L156.08,585.18 L156.40,584.96 L156.72,584.67 L157.04,584.30 L157.36,583.83 L157.68,583.23 L158.00,582.48 L158.32,581.56 L158.64,580.44 L158.96,579.09 L159.28,577.48 L159.60,575.58 L159.92,573.38 L160.24,570.86 L160.56,568.00 L160.88,564.81 L161.20,561.29 L161.52,557.46 L161.84,553.37 L162.16,549.05 L162.48,544.57 L162.80,540.01 L163.12,535.44 L163.44,530.98 L163.76,526.71 L164.08,522.74 L164.40,519.17 L164.72,516.10 L165.04,513.62 L165.36,511.80 L165.68,510.68 L166.00,510.30 L166.32,510.76 L166.64,512.12 L166.96,514.33 L167.28,517.31 L167.60,520.96 L167.92,525.16 L168.24,529.77 L168.56,534.66 L168.88,539.69 L169.20,544.73 L169.52,549.66 L169.84,554.38 L170.16,558.82 L170.48,562.91 L170.80,566.61 L171.12,569.91 L171.44,572.80 L171.76,575.30 L172.08,577.42 L172.40,579.19 L172.72,580.65 L173.04,581.83 L173.36,582.79 L173.68,583.54 L174.00,584.12 L174.32,584.57 L174.64,584.91 L174.96,585.16 L175.28,585.35 L175.60,585.48 L175.92,585.58 L176.24,585.65 L176.56,585.70 L176.88,585.73 L177.20,585.76 L177.52,585.77 L177.84,585.78 L178.16,585.79 L178.48,585.79 L178.80,585.80 L178.80,585.80 Z" fill="#f05cf0" fill-opacity="0.75" stroke="none"/>
<path d="M165.20,585.80 L165.20,585.80 L165.38,585.80 L165.56,585.79 L165.74,585.79 L165.92,585.79 L166.10,585.78 L166.28,585.78 L166.46,585.77 L166.64,585.75 L166.82,585.73 L167.00,585.71 L167.18,585.68 L167.36,585.64 L167.54,585.59 L167.72,585.53 L167.90,585.45 L168.08,585.35 L168.26,585.23 L168.44,585.09 L168.62,584.92 L168.80,584.72 L168.98,584.48 L169.16,584.22 L169.34,583.91 L169.52,583.58 L169.70,583.20 L169.88,582.80 L170.06,582.36 L170.24,581.91 L170.42,581.43 L170.60,580.95 L170.78,580.46 L170.96,579.99 L171.14,579.54 L171.32,579.12 L171.50,578.74 L171.68,578.42 L171.86,578.15 L172.04,577.96 L172.22,577.84 L172.40,577.80 L172.58,577.84 L172.76,577.96 L172.94,578.15 L173.12,578.42 L173.30,578.74 L173.48,579.12 L173.66,579.54 L173.84,579.99 L174.02,580.46 L174.20,580.95 L174.38,581.43 L174.56,581.91 L174.74,582.36 L174.92,582.80 L175.10,583.20 L175.28,583.58 L175.46,583.91 L175.64,584.22 L175.82,584.48 L176.00,584.72 L176.18,584.92 L176.36,585.09 L176.54,585.23 L176.72,585.35 L176.90,585.45 L177.08,585.53 L177.26,585.59 L177.44,585.64 L177.62,585.68 L177.80,585.71 L177.98,585.73 L178.16,585.75 L178.34,585.77 L178.52,585.78 L178.70,585.78 L178.88,585.79 L179.06,585.79 L179.24,585.79 L179.42,585.80 L179.60,585.80 L179.60,585.80 Z" fill="#f5858a" fill-opacity="0.9" stroke="none"/>
<path d="M142.50,585.69 L142.77,585.64 L143.03,585.58 L143.30,585.50 L143.57,585.40 L143.83,585.27 L144.10,585.09 L144.37,584.88 L144.63,584.61 L144.90,584.28 L145.17,583.88 L145.43,583.40 L145.70,582.84 L145.97,582.19 L146.23,581.44 L146.50,580.60 L146.77,579.67 L147.03,578.65 L147.30,577.56 L147.57,576.41 L147.83,575.21 L148.10,574.00 L148.37,572.81 L148.63,571.65 L148.90,570.56 L149.17,569.58 L149.43,568.73 L149.70,568.03 L149.97,567.52 L150.23,567.21 L150.50,567.10 L150.77,567.21 L151.03,567.52 L151.30,568.03 L151.57,568.73 L151.83,569.58 L152.10,570.56 L152.37,571.65 L152.63,572.81 L152.90,574.00 L153.17,575.21 L153.43,576.41 L153.70,577.56 L153.97,578.65 L154.23,579.67 L154.50,580.60 L154.77,581.44 L155.03,582.19 L155.30,582.84 L155.57,583.40 L155.83,583.88 L156.10,584.28 L156.37,584.61 L156.63,584.88 L156.90,585.09 L157.17,585.27 L157.43,585.40 L157.70,585.50 L157.97,585.58 L158.23,585.64 L158.50,585.69" fill="none" stroke="#c020b0" stroke-width="0.6" stroke-opacity="0.7"/>
<path d="M147.66,585.64 L148.00,585.57 L148.34,585.48 L148.68,585.37 L149.03,585.21 L149.37,585.01 L149.71,584.76 L150.05,584.44 L150.39,584.05 L150.73,583.56 L151.07,582.97 L151.41,582.27 L151.76,581.45 L152.10,580.49 L152.44,579.39 L152.78,578.15 L153.12,576.78 L153.46,575.29 L153.80,573.68 L154.15,571.98 L154.49,570.23 L154.83,568.45 L155.17,566.69 L155.51,564.99 L155.85,563.39 L156.19,561.95 L156.53,560.69 L156.88,559.67 L157.22,558.92 L157.56,558.46 L157.90,558.30 L158.24,558.46 L158.58,558.92 L158.92,559.67 L159.27,560.69 L159.61,561.95 L159.95,563.39 L160.29,564.99 L160.63,566.69 L160.97,568.45 L161.31,570.23 L161.65,571.98 L162.00,573.68 L162.34,575.29 L162.68,576.78 L163.02,578.15 L163.36,579.39 L163.70,580.49 L164.04,581.45 L164.39,582.27 L164.73,582.97 L165.07,583.56 L165.41,584.05 L165.75,584.44 L166.09,584.76 L166.43,585.01 L166.77,585.21 L167.12,585.37 L167.46,585.48 L167.80,585.57 L168.14,585.64" fill="none" stroke="#c020b0" stroke-width="0.6" stroke-opacity="0.7"/>
<path d="M155.76,585.35 L156.10,585.17 L156.44,584.93 L156.78,584.61 L157.13,584.19 L157.47,583.64 L157.81,582.95 L158.15,582.08 L158.49,580.99 L158.83,579.66 L159.17,578.04 L159.51,576.12 L159.86,573.85 L160.20,571.21 L160.54,568.20 L160.88,564.81 L161.22,561.04 L161.56,556.93 L161.90,552.52 L162.25,547.87 L162.59,543.06 L162.93,538.18 L163.27,533.34 L163.61,528.67 L163.95,524.28 L164.29,520.31 L164.63,516.87 L164.98,514.07 L165.32,512.00 L165.66,510.73 L166.00,510.30 L166.34,510.82 L166.68,512.36 L167.02,514.86 L167.37,518.22 L167.71,522.30 L168.05,526.96 L168.39,532.03 L168.73,537.34 L169.07,542.72 L169.41,548.03 L169.75,553.15 L170.10,557.95 L170.44,562.38 L170.78,566.38 L171.12,569.91 L171.46,572.98 L171.80,575.60 L172.14,577.80 L172.49,579.61 L172.83,581.07 L173.17,582.24 L173.51,583.16 L173.85,583.87 L174.19,584.40 L174.53,584.81 L174.87,585.10 L175.22,585.32 L175.56,585.47 L175.90,585.58 L176.24,585.65" fill="none" stroke="#c020b0" stroke-width="0.6" stroke-opacity="0.7"/>
<path d="M153.50,568.00 L153.79,567.27 L154.19,566.37 L154.65,565.31 L155.17,564.09 L155.72,562.70 L156.27,561.14 L156.80,559.41 L157.30,557.50 L157.76,555.36 L158.22,552.97 L158.67,550.38 L159.12,547.62 L159.58,544.77 L160.04,541.84 L160.51,538.91 L161.00,536.00 L161.53,532.91 L162.11,529.51 L162.72,525.96 L163.33,522.41 L163.91,519.02 L164.43,515.97 L164.87,513.41 L165.20,511.50" fill="none" stroke="#8fd39a" stroke-width="0.8"/>
<path d="M57.50,585.80 L61.85,585.79 L67.98,585.78 L75.30,585.77 L83.25,585.76 L91.26,585.74 L98.77,585.71 L105.21,585.66 L110.00,585.60 L113.13,585.52 L115.13,585.42 L116.27,585.31 L116.79,585.19 L116.97,585.06 L117.06,584.92 L117.31,584.76 L118.00,584.60 L118.99,584.43 L119.99,584.27 L120.98,584.09 L121.97,583.91 L122.95,583.70 L123.92,583.47 L124.87,583.20 L125.80,582.90 L126.69,582.55 L127.55,582.17 L128.38,581.75 L129.20,581.31 L130.03,580.85 L130.88,580.37 L131.76,579.89 L132.70,579.40 L133.72,578.89 L134.81,578.34 L135.95,577.77 L137.11,577.19 L138.25,576.62 L139.35,576.07 L140.38,575.56 L141.30,575.10 L142.13,574.71 L142.89,574.38 L143.59,574.09 L144.24,573.83 L144.85,573.55 L145.42,573.26 L145.97,572.91 L146.50,572.50 L146.99,571.97 L147.43,571.31 L147.82,570.59 L148.19,569.85 L148.55,569.15 L148.91,568.54 L149.29,568.07 L149.70,567.80 L150.14,567.84 L150.59,568.19 L151.05,568.73 L151.52,569.34 L151.99,569.89 L152.46,570.27 L152.93,570.34 L153.40,570.00 L153.87,569.11 L154.36,567.74 L154.85,566.04 L155.34,564.18 L155.82,562.32 L156.28,560.61 L156.71,559.22 L157.10,558.30 L157.44,557.99 L157.74,558.20 L158.00,558.73 L158.24,559.42 L158.48,560.07 L158.73,560.51 L159.00,560.54 L159.30,560.00 L159.64,558.91 L160.01,557.46 L160.40,555.69 L160.80,553.67 L161.20,551.44 L161.59,549.05 L161.96,546.55 L162.30,544.00 L162.62,541.20 L162.92,538.02 L163.21,534.60 L163.49,531.09 L163.76,527.63 L164.02,524.36 L164.26,521.44 L164.50,519.00 L164.72,516.98 L164.93,515.23 L165.12,513.73 L165.31,512.46 L165.48,511.43 L165.66,510.61 L165.83,510.01 L166.00,509.60 L166.17,509.41 L166.34,509.47 L166.50,509.75 L166.66,510.24 L166.82,510.93 L166.98,511.80 L167.14,512.82 L167.30,514.00 L167.46,515.31 L167.61,516.77 L167.77,518.38 L167.92,520.18 L168.08,522.17 L168.24,524.38 L168.41,526.82 L168.60,529.50 L168.80,532.58 L169.01,536.11 L169.22,539.95 L169.44,543.97 L169.67,548.02 L169.91,551.96 L170.15,555.67 L170.40,559.00 L170.65,562.07 L170.92,565.07 L171.19,567.94 L171.46,570.66 L171.74,573.16 L172.03,575.42 L172.31,577.38 L172.60,579.00 L172.89,580.21 L173.18,581.03 L173.47,581.53 L173.76,581.79 L174.06,581.89 L174.37,581.91 L174.68,581.92 L175.00,582.00 L175.33,582.07 L175.66,582.02 L176.00,581.88 L176.35,581.70 L176.70,581.51 L177.06,581.36 L177.43,581.27 L177.80,581.30 L178.18,581.44 L178.57,581.65 L178.96,581.92 L179.36,582.23 L179.77,582.56 L180.18,582.90 L180.59,583.21 L181.00,583.50 L181.42,583.77 L181.87,584.05 L182.32,584.34 L182.77,584.62 L183.21,584.88 L183.64,585.12 L184.04,585.33 L184.40,585.50 L184.74,585.62 L185.07,585.70 L185.38,585.75 L185.66,585.77 L185.92,585.78 L186.15,585.79 L186.35,585.79 L186.50,585.80" fill="none" stroke="#3c3c3c" stroke-width="0.95"/>
<path d="M162.30,544.00 L162.47,541.96 L162.71,539.14 L162.99,535.77 L163.31,532.09 L163.63,528.33 L163.95,524.74 L164.24,521.55 L164.50,519.00 L164.72,516.98 L164.93,515.23 L165.12,513.73 L165.31,512.46 L165.48,511.43 L165.66,510.61 L165.83,510.01 L166.00,509.60 L166.17,509.41 L166.34,509.47 L166.50,509.75 L166.66,510.24 L166.82,510.93 L166.98,511.80 L167.14,512.82 L167.30,514.00 L167.46,515.31 L167.61,516.77 L167.77,518.38 L167.92,520.18 L168.08,522.17 L168.24,524.38 L168.41,526.82 L168.60,529.50 L168.80,532.58 L169.01,536.11 L169.22,539.95 L169.44,543.97 L169.67,548.02 L169.91,551.96 L170.15,555.67 L170.40,559.00 L170.67,562.09 L170.97,565.14 L171.29,568.07 L171.61,570.84 L171.92,573.38 L172.20,575.63 L172.43,577.52 L172.60,579.00" fill="none" stroke="#4a3f25" stroke-width="1.0" stroke-dasharray="1.6 1.1"/>
</g>
<rect x="57.50" y="504.00" width="128.50" height="81.80" fill="none" stroke="#5a5a5a" stroke-width="1.0"/>
<line x1="57.30" y1="504.00" x2="57.30" y2="585.80" stroke="#6a6a6a" stroke-width="1.4" />
<line x1="57.50" y1="585.80" x2="186.00" y2="585.80" stroke="#6e3a6e" stroke-width="1.4" />
<line x1="54.30" y1="510.41" x2="57.50" y2="510.41" stroke="#555" stroke-width="0.9" />
<text x="0" y="0" font-size="5.2" font-weight="bold" fill="#111" stroke="#111" stroke-width="0.3" textLength="9.53" lengthAdjust="spacing" transform="translate(37.30 512.31) scale(1.5 1)">300</text>
<line x1="54.30" y1="535.54" x2="57.50" y2="535.54" stroke="#555" stroke-width="0.9" />
<text x="0" y="0" font-size="5.2" font-weight="bold" fill="#111" stroke="#111" stroke-width="0.3" textLength="9.53" lengthAdjust="spacing" transform="translate(37.30 537.44) scale(1.5 1)">200</text>
<line x1="54.30" y1="560.67" x2="57.50" y2="560.67" stroke="#555" stroke-width="0.9" />
<text x="0" y="0" font-size="5.2" font-weight="bold" fill="#111" stroke="#111" stroke-width="0.3" textLength="9.53" lengthAdjust="spacing" transform="translate(37.30 562.57) scale(1.5 1)">100</text>
<line x1="54.30" y1="585.80" x2="57.50" y2="585.80" stroke="#555" stroke-width="0.9" />
<text x="0" y="0" font-size="5.2" font-weight="bold" fill="#111" stroke="#111" stroke-width="0.3" textLength="2.60" lengthAdjust="spacing" transform="translate(47.70 587.70) scale(1.5 1)">0</text>
<line x1="55.90" y1="580.77" x2="57.50" y2="580.77" stroke="#8a8a8a" stroke-width="0.6" />
<line x1="55.90" y1="575.75" x2="57.50" y2="575.75" stroke="#8a8a8a" stroke-width="0.6" />
<line x1="55.90" y1="570.72" x2="57.50" y2="570.72" stroke="#8a8a8a" stroke-width="0.6" />
<line x1="55.90" y1="565.70" x2="57.50" y2="565.70" stroke="#8a8a8a" stroke-width="0.6" />
<line x1="55.90" y1="555.64" x2="57.50" y2="555.64" stroke="#8a8a8a" stroke-width="0.6" />
<line x1="55.90" y1="550.62" x2="57.50" y2="550.62" stroke="#8a8a8a" stroke-width="0.6" />
<line x1="55.90" y1="545.59" x2="57.50" y2="545.59" stroke="#8a8a8a" stroke-width="0.6" />
<line x1="55.90" y1="540.57" x2="57.50" y2="540.57" stroke="#8a8a8a" stroke-width="0.6" />
<line x1="55.90" y1="530.51" x2="57.50" y2="530.51" stroke="#8a8a8a" stroke-width="0.6" />
<line x1="55.90" y1="525.49" x2="57.50" y2="525.49" stroke="#8a8a8a" stroke-width="0.6" />
<line x1="55.90" y1="520.46" x2="57.50" y2="520.46" stroke="#8a8a8a" stroke-width="0.6" />
<line x1="55.90" y1="515.44" x2="57.50" y2="515.44" stroke="#8a8a8a" stroke-width="0.6" />
<line x1="55.90" y1="505.38" x2="57.50" y2="505.38" stroke="#8a8a8a" stroke-width="0.6" />
<line x1="67.17" y1="585.80" x2="67.17" y2="587.40" stroke="#999" stroke-width="0.6" />
<line x1="72.83" y1="585.80" x2="72.83" y2="587.40" stroke="#999" stroke-width="0.6" />
<line x1="76.84" y1="585.80" x2="76.84" y2="587.40" stroke="#999" stroke-width="0.6" />
<line x1="79.95" y1="585.80" x2="79.95" y2="587.40" stroke="#999" stroke-width="0.6" />
<line x1="82.50" y1="585.80" x2="82.50" y2="587.40" stroke="#999" stroke-width="0.6" />
<line x1="84.65" y1="585.80" x2="84.65" y2="587.40" stroke="#999" stroke-width="0.6" />
<line x1="86.51" y1="585.80" x2="86.51" y2="587.40" stroke="#999" stroke-width="0.6" />
<line x1="88.16" y1="585.80" x2="88.16" y2="587.40" stroke="#999" stroke-width="0.6" />
<line x1="99.30" y1="585.80" x2="99.30" y2="587.40" stroke="#999" stroke-width="0.6" />
<line x1="104.95" y1="585.80" x2="104.95" y2="587.40" stroke="#999" stroke-width="0.6" />
<line x1="108.97" y1="585.80" x2="108.97" y2="587.40" stroke="#999" stroke-width="0.6" />
<line x1="112.08" y1="585.80" x2="112.08" y2="587.40" stroke="#999" stroke-width="0.6" />
<line x1="114.62" y1="585.80" x2="114.62" y2="587.40" stroke="#999" stroke-width="0.6" />
<line x1="116.77" y1="585.80" x2="116.77" y2="587.40" stroke="#999" stroke-width="0.6" />
<line x1="118.64" y1="585.80" x2="118.64" y2="587.40" stroke="#999" stroke-width="0.6" />
<line x1="120.28" y1="585.80" x2="120.28" y2="587.40" stroke="#999" stroke-width="0.6" />
<line x1="131.42" y1="585.80" x2="131.42" y2="587.40" stroke="#999" stroke-width="0.6" />
<line x1="137.08" y1="585.80" x2="137.08" y2="587.40" stroke="#999" stroke-width="0.6" />
<line x1="141.09" y1="585.80" x2="141.09" y2="587.40" stroke="#999" stroke-width="0.6" />
<line x1="144.20" y1="585.80" x2="144.20" y2="587.40" stroke="#999" stroke-width="0.6" />
<line x1="146.75" y1="585.80" x2="146.75" y2="587.40" stroke="#999" stroke-width="0.6" />
<line x1="148.90" y1="585.80" x2="148.90" y2="587.40" stroke="#999" stroke-width="0.6" />
<line x1="150.76" y1="585.80" x2="150.76" y2="587.40" stroke="#999" stroke-width="0.6" />
<line x1="152.41" y1="585.80" x2="152.41" y2="587.40" stroke="#999" stroke-width="0.6" />
<line x1="163.55" y1="585.80" x2="163.55" y2="587.40" stroke="#999" stroke-width="0.6" />
<line x1="169.20" y1="585.80" x2="169.20" y2="587.40" stroke="#999" stroke-width="0.6" />
<line x1="173.22" y1="585.80" x2="173.22" y2="587.40" stroke="#999" stroke-width="0.6" />
<line x1="176.33" y1="585.80" x2="176.33" y2="587.40" stroke="#999" stroke-width="0.6" />
<line x1="178.87" y1="585.80" x2="178.87" y2="587.40" stroke="#999" stroke-width="0.6" />
<line x1="181.02" y1="585.80" x2="181.02" y2="587.40" stroke="#999" stroke-width="0.6" />
<line x1="182.89" y1="585.80" x2="182.89" y2="587.40" stroke="#999" stroke-width="0.6" />
<line x1="184.53" y1="585.80" x2="184.53" y2="587.40" stroke="#999" stroke-width="0.6" />
<line x1="57.50" y1="585.80" x2="57.50" y2="588.20" stroke="#777" stroke-width="0.8" />
<line x1="89.62" y1="585.80" x2="89.62" y2="588.20" stroke="#777" stroke-width="0.8" />
<line x1="121.75" y1="585.80" x2="121.75" y2="588.20" stroke="#777" stroke-width="0.8" />
<line x1="153.88" y1="585.80" x2="153.88" y2="588.20" stroke="#777" stroke-width="0.8" />
<line x1="186.00" y1="585.80" x2="186.00" y2="588.20" stroke="#777" stroke-width="0.8" />
<text x="0" y="0" font-size="5.0" font-weight="bold" fill="#111" stroke="#111" stroke-width="0.3" textLength="5.94" lengthAdjust="spacing" transform="translate(60.50 595.80) scale(1.55 1)">10</text>
<text x="0" y="0" font-size="4.5" font-weight="bold" fill="#111" stroke="#111" stroke-width="0.3" textLength="2.92" lengthAdjust="spacing" transform="translate(70.70 591.80) scale(1.2 1)">0</text>
<text x="0" y="0" font-size="5.0" font-weight="bold" fill="#111" stroke="#111" stroke-width="0.3" textLength="5.94" lengthAdjust="spacing" transform="translate(85.70 595.80) scale(1.55 1)">10</text>
<text x="0" y="0" font-size="4.5" font-weight="bold" fill="#111" stroke="#111" stroke-width="0.3" textLength="2.92" lengthAdjust="spacing" transform="translate(95.90 591.80) scale(1.2 1)">1</text>
<text x="0" y="0" font-size="5.0" font-weight="bold" fill="#111" stroke="#111" stroke-width="0.3" textLength="5.94" lengthAdjust="spacing" transform="translate(115.70 595.80) scale(1.55 1)">10</text>
<text x="0" y="0" font-size="4.5" font-weight="bold" fill="#111" stroke="#111" stroke-width="0.3" textLength="2.92" lengthAdjust="spacing" transform="translate(125.90 591.80) scale(1.2 1)">2</text>
<text x="0" y="0" font-size="5.0" font-weight="bold" fill="#111" stroke="#111" stroke-width="0.3" textLength="5.94" lengthAdjust="spacing" transform="translate(145.10 595.80) scale(1.55 1)">10</text>
<text x="0" y="0" font-size="4.5" font-weight="bold" fill="#111" stroke="#111" stroke-width="0.3" textLength="2.92" lengthAdjust="spacing" transform="translate(155.30 591.80) scale(1.2 1)">3</text>
<text x="0" y="0" font-size="5.0" font-weight="bold" fill="#111" stroke="#111" stroke-width="0.3" textLength="5.94" lengthAdjust="spacing" transform="translate(173.70 595.80) scale(1.55 1)">10</text>
<text x="0" y="0" font-size="4.5" font-weight="bold" fill="#111" stroke="#111" stroke-width="0.3" textLength="2.92" lengthAdjust="spacing" transform="translate(183.90 591.80) scale(1.2 1)">4</text>
<text x="64.50" y="513.80" font-size="9.3" font-weight="bold" fill="#000" stroke="#000" stroke-width="0.35" textLength="93.00" lengthAdjust="spacingAndGlyphs" >cells in generation&gt;1</text>
<text x="99.10" y="532.80" font-size="9.5" font-weight="bold" fill="#000" stroke="#000" stroke-width="0.3" textLength="19.00" lengthAdjust="spacingAndGlyphs" >39%</text>
<text x="37.50" y="550.00" font-size="9.5" font-weight="bold" fill="#000" stroke="#000" stroke-width="0.4" text-anchor="middle" textLength="45.50" lengthAdjust="spacingAndGlyphs" transform="rotate(-90 37.50 550.00)" >Cell count</text>
<rect x="219.40" y="504.20" width="128.80" height="81.50" fill="#fff" stroke="none"/>
<clipPath id="c140218181574400"><rect x="219.40" y="504.20" width="128.80" height="81.50"/></clipPath>
<g clip-path="url(#c140218181574400)">
<path d="M303.00,585.70 L303.00,585.70 L303.23,585.70 L303.46,585.69 L303.69,585.69 L303.92,585.69 L304.15,585.68 L304.38,585.68 L304.61,585.67 L304.84,585.66 L305.07,585.64 L305.30,585.62 L305.53,585.59 L305.76,585.55 L305.99,585.50 L306.22,585.44 L306.45,585.37 L306.68,585.28 L306.91,585.17 L307.14,585.03 L307.37,584.87 L307.60,584.68 L307.83,584.47 L308.06,584.22 L308.29,583.93 L308.52,583.61 L308.75,583.27 L308.98,582.89 L309.21,582.48 L309.44,582.05 L309.67,581.60 L309.90,581.15 L310.13,580.70 L310.36,580.25 L310.59,579.83 L310.82,579.44 L311.05,579.08 L311.28,578.78 L311.51,578.53 L311.74,578.35 L311.97,578.24 L312.20,578.20 L312.43,578.24 L312.66,578.35 L312.89,578.53 L313.12,578.78 L313.35,579.08 L313.58,579.44 L313.81,579.83 L314.04,580.25 L314.27,580.70 L314.50,581.15 L314.73,581.60 L314.96,582.05 L315.19,582.48 L315.42,582.89 L315.65,583.27 L315.88,583.61 L316.11,583.93 L316.34,584.22 L316.57,584.47 L316.80,584.68 L317.03,584.87 L317.26,585.03 L317.49,585.17 L317.72,585.28 L317.95,585.37 L318.18,585.44 L318.41,585.50 L318.64,585.55 L318.87,585.59 L319.10,585.62 L319.33,585.64 L319.56,585.66 L319.79,585.67 L320.02,585.68 L320.25,585.68 L320.48,585.69 L320.71,585.69 L320.94,585.69 L321.17,585.70 L321.40,585.70 L321.40,585.70 Z" fill="#f05cf0" fill-opacity="0.75" stroke="none"/>
<path d="M305.00,585.70 L305.00,585.69 L305.29,585.69 L305.58,585.69 L305.87,585.68 L306.16,585.67 L306.45,585.66 L306.74,585.65 L307.03,585.62 L307.32,585.60 L307.61,585.56 L307.90,585.51 L308.19,585.44 L308.48,585.35 L308.77,585.24 L309.06,585.10 L309.35,584.93 L309.64,584.72 L309.93,584.46 L310.22,584.14 L310.51,583.77 L310.80,583.33 L311.09,582.82 L311.38,582.24 L311.67,581.57 L311.96,580.83 L312.25,580.02 L312.54,579.13 L312.83,578.18 L313.12,577.18 L313.41,576.14 L313.70,575.09 L313.99,574.03 L314.28,572.99 L314.57,572.00 L314.86,571.08 L315.15,570.26 L315.44,569.55 L315.73,568.97 L316.02,568.55 L316.31,568.29 L316.60,568.20 L316.89,568.29 L317.18,568.55 L317.47,568.97 L317.76,569.55 L318.05,570.26 L318.34,571.08 L318.63,572.00 L318.92,572.99 L319.21,574.03 L319.50,575.09 L319.79,576.14 L320.08,577.18 L320.37,578.18 L320.66,579.13 L320.95,580.02 L321.24,580.83 L321.53,581.57 L321.82,582.24 L322.11,582.82 L322.40,583.33 L322.69,583.77 L322.98,584.14 L323.27,584.46 L323.56,584.72 L323.85,584.93 L324.14,585.10 L324.43,585.24 L324.72,585.35 L325.01,585.44 L325.30,585.51 L325.59,585.56 L325.88,585.60 L326.17,585.62 L326.46,585.65 L326.75,585.66 L327.04,585.67 L327.33,585.68 L327.62,585.69 L327.91,585.69 L328.20,585.69 L328.20,585.70 Z" fill="#f05cf0" fill-opacity="0.75" stroke="none"/>
<path d="M308.40,585.70 L308.40,585.69 L308.74,585.68 L309.08,585.68 L309.42,585.66 L309.76,585.65 L310.10,585.63 L310.44,585.60 L310.78,585.56 L311.12,585.50 L311.46,585.43 L311.80,585.33 L312.14,585.21 L312.48,585.05 L312.82,584.84 L313.16,584.58 L313.50,584.25 L313.84,583.85 L314.18,583.36 L314.52,582.77 L314.86,582.06 L315.20,581.23 L315.54,580.27 L315.88,579.17 L316.22,577.92 L316.56,576.52 L316.90,574.99 L317.24,573.31 L317.58,571.52 L317.92,569.64 L318.26,567.68 L318.60,565.68 L318.94,563.69 L319.28,561.74 L319.62,559.87 L319.96,558.14 L320.30,556.58 L320.64,555.24 L320.98,554.15 L321.32,553.35 L321.66,552.86 L322.00,552.70 L322.34,552.86 L322.68,553.35 L323.02,554.15 L323.36,555.24 L323.70,556.58 L324.04,558.14 L324.38,559.87 L324.72,561.74 L325.06,563.69 L325.40,565.68 L325.74,567.68 L326.08,569.64 L326.42,571.52 L326.76,573.31 L327.10,574.99 L327.44,576.52 L327.78,577.92 L328.12,579.17 L328.46,580.27 L328.80,581.23 L329.14,582.06 L329.48,582.77 L329.82,583.36 L330.16,583.85 L330.50,584.25 L330.84,584.58 L331.18,584.84 L331.52,585.05 L331.86,585.21 L332.20,585.33 L332.54,585.43 L332.88,585.50 L333.22,585.56 L333.56,585.60 L333.90,585.63 L334.24,585.65 L334.58,585.66 L334.92,585.68 L335.26,585.68 L335.60,585.69 L335.60,585.70 Z" fill="#f05cf0" fill-opacity="0.75" stroke="none"/>
<path d="M317.50,585.70 L317.50,585.67 L317.81,585.66 L318.12,585.64 L318.43,585.62 L318.74,585.58 L319.05,585.53 L319.36,585.47 L319.67,585.37 L319.98,585.25 L320.29,585.08 L320.60,584.86 L320.91,584.57 L321.22,584.19 L321.53,583.71 L321.84,583.11 L322.15,582.36 L322.46,581.43 L322.77,580.30 L323.08,578.94 L323.39,577.32 L323.70,575.41 L324.01,573.20 L324.32,570.66 L324.63,567.78 L324.94,564.57 L325.25,561.03 L325.56,557.18 L325.87,553.05 L326.18,548.71 L326.49,544.20 L326.80,539.60 L327.11,535.01 L327.42,530.51 L327.73,526.21 L328.04,522.22 L328.35,518.63 L328.66,515.54 L328.97,513.04 L329.28,511.20 L329.59,510.08 L329.90,509.70 L330.21,510.24 L330.52,511.83 L330.83,514.41 L331.14,517.87 L331.45,522.07 L331.76,526.86 L332.07,532.05 L332.38,537.48 L332.69,542.97 L333.00,548.36 L333.31,553.54 L333.62,558.39 L333.93,562.84 L334.24,566.83 L334.55,570.35 L334.86,573.38 L335.17,575.96 L335.48,578.10 L335.79,579.86 L336.10,581.27 L336.41,582.39 L336.72,583.26 L337.03,583.93 L337.34,584.43 L337.65,584.81 L337.96,585.08 L338.27,585.27 L338.58,585.41 L338.89,585.51 L339.20,585.57 L339.51,585.62 L339.82,585.65 L340.13,585.67 L340.44,585.68 L340.75,585.69 L341.06,585.69 L341.37,585.70 L341.68,585.70 L341.99,585.70 L342.30,585.70 L342.30,585.70 Z" fill="#f05cf0" fill-opacity="0.75" stroke="none"/>
<path d="M330.40,585.70 L330.40,585.70 L330.58,585.70 L330.76,585.69 L330.94,585.69 L331.12,585.69 L331.30,585.68 L331.48,585.67 L331.66,585.66 L331.84,585.65 L332.02,585.63 L332.20,585.60 L332.38,585.57 L332.56,585.52 L332.74,585.46 L332.92,585.39 L333.10,585.30 L333.28,585.19 L333.46,585.06 L333.64,584.90 L333.82,584.71 L334.00,584.48 L334.18,584.22 L334.36,583.92 L334.54,583.58 L334.72,583.20 L334.90,582.78 L335.08,582.32 L335.26,581.83 L335.44,581.32 L335.62,580.79 L335.80,580.24 L335.98,579.70 L336.16,579.16 L336.34,578.66 L336.52,578.18 L336.70,577.76 L336.88,577.39 L337.06,577.10 L337.24,576.88 L337.42,576.74 L337.60,576.70 L337.78,576.74 L337.96,576.88 L338.14,577.10 L338.32,577.39 L338.50,577.76 L338.68,578.18 L338.86,578.66 L339.04,579.16 L339.22,579.70 L339.40,580.24 L339.58,580.79 L339.76,581.32 L339.94,581.83 L340.12,582.32 L340.30,582.78 L340.48,583.20 L340.66,583.58 L340.84,583.92 L341.02,584.22 L341.20,584.48 L341.38,584.71 L341.56,584.90 L341.74,585.06 L341.92,585.19 L342.10,585.30 L342.28,585.39 L342.46,585.46 L342.64,585.52 L342.82,585.57 L343.00,585.60 L343.18,585.63 L343.36,585.65 L343.54,585.66 L343.72,585.67 L343.90,585.68 L344.08,585.69 L344.26,585.69 L344.44,585.69 L344.62,585.70 L344.80,585.70 L344.80,585.70 Z" fill="#f5858a" fill-opacity="0.9" stroke="none"/>
<path d="M304.84,585.66 L305.09,585.64 L305.33,585.61 L305.58,585.58 L305.82,585.54 L306.07,585.49 L306.31,585.42 L306.56,585.33 L306.80,585.22 L307.05,585.09 L307.29,584.93 L307.54,584.74 L307.78,584.51 L308.03,584.25 L308.27,583.95 L308.52,583.61 L308.77,583.24 L309.01,582.83 L309.26,582.39 L309.50,581.93 L309.75,581.45 L309.99,580.97 L310.24,580.49 L310.48,580.02 L310.73,579.59 L310.97,579.19 L311.22,578.85 L311.46,578.57 L311.71,578.37 L311.95,578.24 L312.20,578.20 L312.45,578.24 L312.69,578.37 L312.94,578.57 L313.18,578.85 L313.43,579.19 L313.67,579.59 L313.92,580.02 L314.16,580.49 L314.41,580.97 L314.65,581.45 L314.90,581.93 L315.14,582.39 L315.39,582.83 L315.63,583.24 L315.88,583.61 L316.13,583.95 L316.37,584.25 L316.62,584.51 L316.86,584.74 L317.11,584.93 L317.35,585.09 L317.60,585.22 L317.84,585.33 L318.09,585.42 L318.33,585.49 L318.58,585.54 L318.82,585.58 L319.07,585.61 L319.31,585.64 L319.56,585.66" fill="none" stroke="#c020b0" stroke-width="0.6" stroke-opacity="0.7"/>
<path d="M307.32,585.60 L307.63,585.55 L307.94,585.50 L308.25,585.42 L308.56,585.33 L308.87,585.20 L309.18,585.04 L309.49,584.84 L309.79,584.59 L310.10,584.28 L310.41,583.90 L310.72,583.46 L311.03,582.93 L311.34,582.32 L311.65,581.62 L311.96,580.83 L312.27,579.96 L312.58,579.01 L312.89,577.99 L313.20,576.91 L313.51,575.79 L313.82,574.66 L314.13,573.54 L314.43,572.46 L314.74,571.44 L315.05,570.52 L315.36,569.72 L315.67,569.07 L315.98,568.59 L316.29,568.30 L316.60,568.20 L316.91,568.30 L317.22,568.59 L317.53,569.07 L317.84,569.72 L318.15,570.52 L318.46,571.44 L318.77,572.46 L319.07,573.54 L319.38,574.66 L319.69,575.79 L320.00,576.91 L320.31,577.99 L320.62,579.01 L320.93,579.96 L321.24,580.83 L321.55,581.62 L321.86,582.32 L322.17,582.93 L322.48,583.46 L322.79,583.90 L323.10,584.28 L323.41,584.59 L323.71,584.84 L324.02,585.04 L324.33,585.20 L324.64,585.33 L324.95,585.42 L325.26,585.50 L325.57,585.55 L325.88,585.60" fill="none" stroke="#c020b0" stroke-width="0.6" stroke-opacity="0.7"/>
<path d="M311.12,585.50 L311.48,585.42 L311.85,585.32 L312.21,585.18 L312.57,584.99 L312.93,584.76 L313.30,584.45 L313.66,584.07 L314.02,583.60 L314.38,583.01 L314.75,582.31 L315.11,581.47 L315.47,580.48 L315.83,579.32 L316.20,578.01 L316.56,576.52 L316.92,574.88 L317.29,573.08 L317.65,571.15 L318.01,569.12 L318.37,567.02 L318.74,564.88 L319.10,562.77 L319.46,560.73 L319.82,558.81 L320.19,557.07 L320.55,555.57 L320.91,554.35 L321.27,553.44 L321.64,552.89 L322.00,552.70 L322.36,552.89 L322.73,553.44 L323.09,554.35 L323.45,555.57 L323.81,557.07 L324.18,558.81 L324.54,560.73 L324.90,562.77 L325.26,564.88 L325.63,567.02 L325.99,569.12 L326.35,571.15 L326.71,573.08 L327.08,574.88 L327.44,576.52 L327.80,578.01 L328.17,579.32 L328.53,580.48 L328.89,581.47 L329.25,582.31 L329.62,583.01 L329.98,583.60 L330.34,584.07 L330.70,584.45 L331.07,584.76 L331.43,584.99 L331.79,585.18 L332.15,585.32 L332.52,585.42 L332.88,585.50" fill="none" stroke="#c020b0" stroke-width="0.6" stroke-opacity="0.7"/>
<path d="M319.98,585.25 L320.31,585.06 L320.64,584.82 L320.97,584.50 L321.30,584.08 L321.63,583.53 L321.96,582.83 L322.29,581.95 L322.63,580.86 L322.96,579.52 L323.29,577.89 L323.62,575.95 L323.95,573.67 L324.28,571.02 L324.61,567.99 L324.94,564.57 L325.27,560.78 L325.60,556.64 L325.93,552.20 L326.26,547.52 L326.59,542.67 L326.92,537.76 L327.25,532.89 L327.59,528.19 L327.92,523.77 L328.25,519.78 L328.58,516.31 L328.91,513.49 L329.24,511.41 L329.57,510.13 L329.90,509.70 L330.23,510.31 L330.56,512.12 L330.89,515.04 L331.22,518.92 L331.55,523.61 L331.88,528.90 L332.21,534.57 L332.55,540.41 L332.88,546.23 L333.21,551.85 L333.54,557.14 L333.87,561.98 L334.20,566.33 L334.53,570.13 L334.86,573.38 L335.19,576.11 L335.52,578.36 L335.85,580.17 L336.18,581.60 L336.51,582.71 L336.84,583.55 L337.17,584.18 L337.51,584.65 L337.84,584.98 L338.17,585.22 L338.50,585.38 L338.83,585.49 L339.16,585.57 L339.49,585.62 L339.82,585.65" fill="none" stroke="#c020b0" stroke-width="0.6" stroke-opacity="0.7"/>
<path d="M318.00,566.00 L318.31,564.81 L318.72,563.24 L319.21,561.37 L319.75,559.28 L320.32,557.07 L320.91,554.81 L321.47,552.59 L322.00,550.50 L322.50,548.52 L323.01,546.58 L323.52,544.64 L324.03,542.67 L324.54,540.65 L325.04,538.55 L325.52,536.34 L326.00,534.00 L326.49,531.35 L326.99,528.33 L327.50,525.12 L328.00,521.87 L328.47,518.75 L328.88,515.92 L329.23,513.55 L329.50,511.80" fill="none" stroke="#8fd39a" stroke-width="0.8"/>
<path d="M219.40,585.70 L224.75,585.70 L232.28,585.70 L241.28,585.71 L251.05,585.71 L260.91,585.70 L270.15,585.67 L278.08,585.60 L284.00,585.50 L287.93,585.35 L290.52,585.16 L292.08,584.94 L292.89,584.70 L293.23,584.45 L293.41,584.19 L293.70,583.94 L294.40,583.70 L295.32,583.48 L296.10,583.28 L296.77,583.08 L297.39,582.88 L297.98,582.66 L298.59,582.43 L299.25,582.18 L300.00,581.90 L300.85,581.60 L301.76,581.29 L302.71,580.96 L303.68,580.61 L304.66,580.24 L305.61,579.83 L306.53,579.39 L307.40,578.90 L308.22,578.35 L309.03,577.74 L309.82,577.08 L310.58,576.39 L311.31,575.69 L312.01,575.00 L312.68,574.33 L313.30,573.70 L313.87,573.15 L314.40,572.68 L314.88,572.25 L315.34,571.82 L315.77,571.35 L316.18,570.80 L316.59,570.13 L317.00,569.30 L317.41,568.26 L317.80,567.02 L318.19,565.65 L318.56,564.20 L318.92,562.75 L319.26,561.35 L319.59,560.08 L319.90,559.00 L320.18,558.05 L320.43,557.15 L320.66,556.32 L320.87,555.57 L321.09,554.93 L321.31,554.40 L321.54,554.02 L321.80,553.80 L322.09,553.89 L322.39,554.34 L322.71,555.01 L323.03,555.76 L323.36,556.46 L323.68,556.95 L324.00,557.12 L324.30,556.80 L324.59,556.07 L324.87,555.07 L325.14,553.83 L325.41,552.34 L325.68,550.63 L325.95,548.69 L326.22,546.55 L326.50,544.20 L326.79,541.43 L327.10,538.12 L327.41,534.47 L327.72,530.67 L328.02,526.90 L328.31,523.36 L328.57,520.23 L328.80,517.70 L328.99,515.62 L329.14,513.73 L329.27,512.08 L329.38,510.75 L329.49,509.78 L329.60,509.23 L329.74,509.15 L329.90,509.60 L330.09,510.68 L330.30,512.38 L330.52,514.59 L330.75,517.20 L330.99,520.10 L331.23,523.19 L331.47,526.36 L331.70,529.50 L331.93,532.82 L332.17,536.51 L332.41,540.44 L332.65,544.48 L332.89,548.49 L333.13,552.34 L333.37,555.88 L333.60,559.00 L333.82,561.76 L334.04,564.33 L334.25,566.70 L334.46,568.86 L334.67,570.80 L334.90,572.51 L335.14,573.98 L335.40,575.20 L335.68,576.09 L335.98,576.64 L336.29,576.90 L336.61,576.96 L336.94,576.87 L337.28,576.72 L337.64,576.57 L338.00,576.50 L338.38,576.40 L338.79,576.16 L339.20,575.84 L339.63,575.49 L340.06,575.18 L340.49,574.96 L340.90,574.88 L341.30,575.00 L341.68,575.35 L342.03,575.88 L342.38,576.54 L342.72,577.30 L343.06,578.11 L343.42,578.92 L343.80,579.70 L344.20,580.40 L344.65,581.07 L345.15,581.77 L345.68,582.47 L346.22,583.16 L346.74,583.81 L347.23,584.40 L347.65,584.91 L348.00,585.30 L348.27,585.57 L348.47,585.73 L348.62,585.80 L348.74,585.81 L348.82,585.78 L348.89,585.73 L348.94,585.70 L349.00,585.70" fill="none" stroke="#3c3c3c" stroke-width="0.95"/>
<path d="M326.50,544.20 L326.69,542.03 L326.94,539.01 L327.25,535.39 L327.58,531.46 L327.92,527.45 L328.26,523.65 L328.55,520.31 L328.80,517.70 L328.99,515.62 L329.14,513.73 L329.27,512.08 L329.38,510.75 L329.49,509.78 L329.60,509.23 L329.74,509.15 L329.90,509.60 L330.09,510.68 L330.30,512.38 L330.52,514.59 L330.75,517.20 L330.99,520.10 L331.23,523.19 L331.47,526.36 L331.70,529.50 L331.93,532.82 L332.17,536.51 L332.41,540.44 L332.65,544.48 L332.89,548.49 L333.13,552.34 L333.37,555.88 L333.60,559.00 L333.84,561.77 L334.10,564.36 L334.36,566.76 L334.62,568.94 L334.86,570.90 L335.08,572.60 L335.26,574.04 L335.40,575.20" fill="none" stroke="#4a3f25" stroke-width="1.0" stroke-dasharray="1.6 1.1"/>
</g>
<rect x="219.40" y="504.20" width="128.80" height="81.50" fill="none" stroke="#5a5a5a" stroke-width="1.0"/>
<line x1="219.20" y1="504.20" x2="219.20" y2="585.70" stroke="#6a6a6a" stroke-width="1.4" />
<line x1="219.40" y1="585.70" x2="348.20" y2="585.70" stroke="#6e3a6e" stroke-width="1.4" />
<line x1="216.20" y1="507.50" x2="219.40" y2="507.50" stroke="#555" stroke-width="0.9" />
<text x="0" y="0" font-size="5.2" font-weight="bold" fill="#111" stroke="#111" stroke-width="0.3" textLength="9.53" lengthAdjust="spacing" transform="translate(198.30 509.40) scale(1.5 1)">400</text>
<line x1="216.20" y1="526.75" x2="219.40" y2="526.75" stroke="#555" stroke-width="0.9" />
<text x="0" y="0" font-size="5.2" font-weight="bold" fill="#111" stroke="#111" stroke-width="0.3" textLength="9.53" lengthAdjust="spacing" transform="translate(198.30 528.65) scale(1.5 1)">300</text>
<line x1="216.20" y1="546.00" x2="219.40" y2="546.00" stroke="#555" stroke-width="0.9" />
<text x="0" y="0" font-size="5.2" font-weight="bold" fill="#111" stroke="#111" stroke-width="0.3" textLength="9.53" lengthAdjust="spacing" transform="translate(198.30 547.90) scale(1.5 1)">200</text>
<line x1="216.20" y1="565.25" x2="219.40" y2="565.25" stroke="#555" stroke-width="0.9" />
<text x="0" y="0" font-size="5.2" font-weight="bold" fill="#111" stroke="#111" stroke-width="0.3" textLength="9.53" lengthAdjust="spacing" transform="translate(198.30 567.15) scale(1.5 1)">100</text>
<line x1="216.20" y1="584.50" x2="219.40" y2="584.50" stroke="#555" stroke-width="0.9" />
<text x="0" y="0" font-size="5.2" font-weight="bold" fill="#111" stroke="#111" stroke-width="0.3" textLength="2.60" lengthAdjust="spacing" transform="translate(208.70 586.40) scale(1.5 1)">0</text>
<line x1="217.80" y1="580.65" x2="219.40" y2="580.65" stroke="#8a8a8a" stroke-width="0.6" />
<line x1="217.80" y1="576.80" x2="219.40" y2="576.80" stroke="#8a8a8a" stroke-width="0.6" />
<line x1="217.80" y1="572.95" x2="219.40" y2="572.95" stroke="#8a8a8a" stroke-width="0.6" />
<line x1="217.80" y1="569.10" x2="219.40" y2="569.10" stroke="#8a8a8a" stroke-width="0.6" />
<line x1="217.80" y1="561.40" x2="219.40" y2="561.40" stroke="#8a8a8a" stroke-width="0.6" />
<line x1="217.80" y1="557.55" x2="219.40" y2="557.55" stroke="#8a8a8a" stroke-width="0.6" />
<line x1="217.80" y1="553.70" x2="219.40" y2="553.70" stroke="#8a8a8a" stroke-width="0.6" />
<line x1="217.80" y1="549.85" x2="219.40" y2="549.85" stroke="#8a8a8a" stroke-width="0.6" />
<line x1="217.80" y1="542.15" x2="219.40" y2="542.15" stroke="#8a8a8a" stroke-width="0.6" />
<line x1="217.80" y1="538.30" x2="219.40" y2="538.30" stroke="#8a8a8a" stroke-width="0.6" />
<line x1="217.80" y1="534.45" x2="219.40" y2="534.45" stroke="#8a8a8a" stroke-width="0.6" />
<line x1="217.80" y1="530.60" x2="219.40" y2="530.60" stroke="#8a8a8a" stroke-width="0.6" />
<line x1="217.80" y1="522.90" x2="219.40" y2="522.90" stroke="#8a8a8a" stroke-width="0.6" />
<line x1="217.80" y1="519.05" x2="219.40" y2="519.05" stroke="#8a8a8a" stroke-width="0.6" />
<line x1="217.80" y1="515.20" x2="219.40" y2="515.20" stroke="#8a8a8a" stroke-width="0.6" />
<line x1="217.80" y1="511.35" x2="219.40" y2="511.35" stroke="#8a8a8a" stroke-width="0.6" />
<line x1="229.09" y1="585.70" x2="229.09" y2="587.30" stroke="#999" stroke-width="0.6" />
<line x1="234.76" y1="585.70" x2="234.76" y2="587.30" stroke="#999" stroke-width="0.6" />
<line x1="238.79" y1="585.70" x2="238.79" y2="587.30" stroke="#999" stroke-width="0.6" />
<line x1="241.91" y1="585.70" x2="241.91" y2="587.30" stroke="#999" stroke-width="0.6" />
<line x1="244.46" y1="585.70" x2="244.46" y2="587.30" stroke="#999" stroke-width="0.6" />
<line x1="246.61" y1="585.70" x2="246.61" y2="587.30" stroke="#999" stroke-width="0.6" />
<line x1="248.48" y1="585.70" x2="248.48" y2="587.30" stroke="#999" stroke-width="0.6" />
<line x1="250.13" y1="585.70" x2="250.13" y2="587.30" stroke="#999" stroke-width="0.6" />
<line x1="261.29" y1="585.70" x2="261.29" y2="587.30" stroke="#999" stroke-width="0.6" />
<line x1="266.96" y1="585.70" x2="266.96" y2="587.30" stroke="#999" stroke-width="0.6" />
<line x1="270.99" y1="585.70" x2="270.99" y2="587.30" stroke="#999" stroke-width="0.6" />
<line x1="274.11" y1="585.70" x2="274.11" y2="587.30" stroke="#999" stroke-width="0.6" />
<line x1="276.66" y1="585.70" x2="276.66" y2="587.30" stroke="#999" stroke-width="0.6" />
<line x1="278.81" y1="585.70" x2="278.81" y2="587.30" stroke="#999" stroke-width="0.6" />
<line x1="280.68" y1="585.70" x2="280.68" y2="587.30" stroke="#999" stroke-width="0.6" />
<line x1="282.33" y1="585.70" x2="282.33" y2="587.30" stroke="#999" stroke-width="0.6" />
<line x1="293.49" y1="585.70" x2="293.49" y2="587.30" stroke="#999" stroke-width="0.6" />
<line x1="299.16" y1="585.70" x2="299.16" y2="587.30" stroke="#999" stroke-width="0.6" />
<line x1="303.19" y1="585.70" x2="303.19" y2="587.30" stroke="#999" stroke-width="0.6" />
<line x1="306.31" y1="585.70" x2="306.31" y2="587.30" stroke="#999" stroke-width="0.6" />
<line x1="308.86" y1="585.70" x2="308.86" y2="587.30" stroke="#999" stroke-width="0.6" />
<line x1="311.01" y1="585.70" x2="311.01" y2="587.30" stroke="#999" stroke-width="0.6" />
<line x1="312.88" y1="585.70" x2="312.88" y2="587.30" stroke="#999" stroke-width="0.6" />
<line x1="314.53" y1="585.70" x2="314.53" y2="587.30" stroke="#999" stroke-width="0.6" />
<line x1="325.69" y1="585.70" x2="325.69" y2="587.30" stroke="#999" stroke-width="0.6" />
<line x1="331.36" y1="585.70" x2="331.36" y2="587.30" stroke="#999" stroke-width="0.6" />
<line x1="335.39" y1="585.70" x2="335.39" y2="587.30" stroke="#999" stroke-width="0.6" />
<line x1="338.51" y1="585.70" x2="338.51" y2="587.30" stroke="#999" stroke-width="0.6" />
<line x1="341.06" y1="585.70" x2="341.06" y2="587.30" stroke="#999" stroke-width="0.6" />
<line x1="343.21" y1="585.70" x2="343.21" y2="587.30" stroke="#999" stroke-width="0.6" />
<line x1="345.08" y1="585.70" x2="345.08" y2="587.30" stroke="#999" stroke-width="0.6" />
<line x1="346.73" y1="585.70" x2="346.73" y2="587.30" stroke="#999" stroke-width="0.6" />
<line x1="219.40" y1="585.70" x2="219.40" y2="588.10" stroke="#777" stroke-width="0.8" />
<line x1="251.60" y1="585.70" x2="251.60" y2="588.10" stroke="#777" stroke-width="0.8" />
<line x1="283.80" y1="585.70" x2="283.80" y2="588.10" stroke="#777" stroke-width="0.8" />
<line x1="316.00" y1="585.70" x2="316.00" y2="588.10" stroke="#777" stroke-width="0.8" />
<line x1="348.20" y1="585.70" x2="348.20" y2="588.10" stroke="#777" stroke-width="0.8" />
<text x="0" y="0" font-size="5.0" font-weight="bold" fill="#111" stroke="#111" stroke-width="0.3" textLength="5.94" lengthAdjust="spacing" transform="translate(222.40 595.80) scale(1.55 1)">10</text>
<text x="0" y="0" font-size="4.5" font-weight="bold" fill="#111" stroke="#111" stroke-width="0.3" textLength="2.92" lengthAdjust="spacing" transform="translate(232.60 591.80) scale(1.2 1)">0</text>
<text x="0" y="0" font-size="5.0" font-weight="bold" fill="#111" stroke="#111" stroke-width="0.3" textLength="5.94" lengthAdjust="spacing" transform="translate(247.60 595.80) scale(1.55 1)">10</text>
<text x="0" y="0" font-size="4.5" font-weight="bold" fill="#111" stroke="#111" stroke-width="0.3" textLength="2.92" lengthAdjust="spacing" transform="translate(257.80 591.80) scale(1.2 1)">1</text>
<text x="0" y="0" font-size="5.0" font-weight="bold" fill="#111" stroke="#111" stroke-width="0.3" textLength="5.94" lengthAdjust="spacing" transform="translate(277.60 595.80) scale(1.55 1)">10</text>
<text x="0" y="0" font-size="4.5" font-weight="bold" fill="#111" stroke="#111" stroke-width="0.3" textLength="2.92" lengthAdjust="spacing" transform="translate(287.80 591.80) scale(1.2 1)">2</text>
<text x="0" y="0" font-size="5.0" font-weight="bold" fill="#111" stroke="#111" stroke-width="0.3" textLength="5.94" lengthAdjust="spacing" transform="translate(307.00 595.80) scale(1.55 1)">10</text>
<text x="0" y="0" font-size="4.5" font-weight="bold" fill="#111" stroke="#111" stroke-width="0.3" textLength="2.92" lengthAdjust="spacing" transform="translate(317.20 591.80) scale(1.2 1)">3</text>
<text x="0" y="0" font-size="5.0" font-weight="bold" fill="#111" stroke="#111" stroke-width="0.3" textLength="5.94" lengthAdjust="spacing" transform="translate(335.60 595.80) scale(1.55 1)">10</text>
<text x="0" y="0" font-size="4.5" font-weight="bold" fill="#111" stroke="#111" stroke-width="0.3" textLength="2.92" lengthAdjust="spacing" transform="translate(345.80 591.80) scale(1.2 1)">4</text>
<text x="226.50" y="513.80" font-size="9.3" font-weight="bold" fill="#000" stroke="#000" stroke-width="0.35" textLength="93.00" lengthAdjust="spacingAndGlyphs" >cells in generation&gt;1</text>
<text x="269.70" y="533.00" font-size="9.5" font-weight="bold" fill="#000" stroke="#000" stroke-width="0.3" textLength="26.00" lengthAdjust="spacingAndGlyphs" >37.5%</text>
<text x="195.70" y="549.80" font-size="9.5" font-weight="bold" fill="#000" stroke="#000" stroke-width="0.4" text-anchor="middle" textLength="45.50" lengthAdjust="spacingAndGlyphs" transform="rotate(-90 195.70 549.80)" >Cell count</text>
<rect x="383.10" y="504.40" width="129.30" height="81.40" fill="#fff" stroke="none"/>
<clipPath id="c140218181574272"><rect x="383.10" y="504.40" width="129.30" height="81.40"/></clipPath>
<g clip-path="url(#c140218181574272)">
<path d="M470.00,585.80 L470.00,585.80 L470.30,585.79 L470.60,585.79 L470.90,585.79 L471.20,585.78 L471.50,585.77 L471.80,585.76 L472.10,585.74 L472.40,585.72 L472.70,585.69 L473.00,585.65 L473.30,585.60 L473.60,585.53 L473.90,585.45 L474.20,585.34 L474.50,585.21 L474.80,585.04 L475.10,584.84 L475.40,584.60 L475.70,584.31 L476.00,583.97 L476.30,583.58 L476.60,583.13 L476.90,582.62 L477.20,582.05 L477.50,581.42 L477.80,580.73 L478.10,580.00 L478.40,579.23 L478.70,578.43 L479.00,577.61 L479.30,576.80 L479.60,576.00 L479.90,575.23 L480.20,574.52 L480.50,573.89 L480.80,573.34 L481.10,572.89 L481.40,572.57 L481.70,572.37 L482.00,572.30 L482.30,572.37 L482.60,572.57 L482.90,572.89 L483.20,573.34 L483.50,573.89 L483.80,574.52 L484.10,575.23 L484.40,576.00 L484.70,576.80 L485.00,577.61 L485.30,578.43 L485.60,579.23 L485.90,580.00 L486.20,580.73 L486.50,581.42 L486.80,582.05 L487.10,582.62 L487.40,583.13 L487.70,583.58 L488.00,583.97 L488.30,584.31 L488.60,584.60 L488.90,584.84 L489.20,585.04 L489.50,585.21 L489.80,585.34 L490.10,585.45 L490.40,585.53 L490.70,585.60 L491.00,585.65 L491.30,585.69 L491.60,585.72 L491.90,585.74 L492.20,585.76 L492.50,585.77 L492.80,585.78 L493.10,585.79 L493.40,585.79 L493.70,585.79 L494.00,585.80 L494.00,585.80 Z" fill="#f05cf0" fill-opacity="0.75" stroke="none"/>
<path d="M477.40,585.80 L477.40,585.78 L477.68,585.76 L477.96,585.75 L478.24,585.72 L478.52,585.69 L478.80,585.64 L479.08,585.57 L479.36,585.48 L479.64,585.36 L479.92,585.19 L480.20,584.98 L480.48,584.70 L480.76,584.33 L481.04,583.87 L481.32,583.28 L481.60,582.55 L481.88,581.65 L482.16,580.55 L482.44,579.22 L482.72,577.64 L483.00,575.79 L483.28,573.63 L483.56,571.16 L483.84,568.35 L484.12,565.23 L484.40,561.78 L484.68,558.03 L484.96,554.01 L485.24,549.78 L485.52,545.39 L485.80,540.92 L486.08,536.44 L486.36,532.06 L486.64,527.88 L486.92,523.99 L487.20,520.50 L487.48,517.49 L487.76,515.06 L488.04,513.27 L488.32,512.17 L488.60,511.80 L488.88,512.17 L489.16,513.27 L489.44,515.06 L489.72,517.49 L490.00,520.50 L490.28,523.99 L490.56,527.88 L490.84,532.06 L491.12,536.44 L491.40,540.92 L491.68,545.39 L491.96,549.78 L492.24,554.01 L492.52,558.03 L492.80,561.78 L493.08,565.23 L493.36,568.35 L493.64,571.16 L493.92,573.63 L494.20,575.79 L494.48,577.64 L494.76,579.22 L495.04,580.55 L495.32,581.65 L495.60,582.55 L495.88,583.28 L496.16,583.87 L496.44,584.33 L496.72,584.70 L497.00,584.98 L497.28,585.19 L497.56,585.36 L497.84,585.48 L498.12,585.57 L498.40,585.64 L498.68,585.69 L498.96,585.72 L499.24,585.75 L499.52,585.76 L499.80,585.78 L499.80,585.80 Z" fill="#f05cf0" fill-opacity="0.75" stroke="none"/>
<path d="M489.60,585.80 L489.60,585.80 L489.76,585.80 L489.92,585.80 L490.08,585.80 L490.24,585.79 L490.40,585.79 L490.56,585.79 L490.72,585.78 L490.88,585.78 L491.04,585.77 L491.20,585.76 L491.36,585.75 L491.52,585.73 L491.68,585.71 L491.84,585.68 L492.00,585.65 L492.16,585.60 L492.32,585.55 L492.48,585.49 L492.64,585.41 L492.80,585.33 L492.96,585.22 L493.12,585.11 L493.28,584.97 L493.44,584.83 L493.60,584.66 L493.76,584.49 L493.92,584.30 L494.08,584.10 L494.24,583.89 L494.40,583.68 L494.56,583.47 L494.72,583.26 L494.88,583.06 L495.04,582.88 L495.20,582.71 L495.36,582.57 L495.52,582.45 L495.68,582.37 L495.84,582.32 L496.00,582.30 L496.16,582.32 L496.32,582.37 L496.48,582.45 L496.64,582.57 L496.80,582.71 L496.96,582.88 L497.12,583.06 L497.28,583.26 L497.44,583.47 L497.60,583.68 L497.76,583.89 L497.92,584.10 L498.08,584.30 L498.24,584.49 L498.40,584.66 L498.56,584.83 L498.72,584.97 L498.88,585.11 L499.04,585.22 L499.20,585.33 L499.36,585.41 L499.52,585.49 L499.68,585.55 L499.84,585.60 L500.00,585.65 L500.16,585.68 L500.32,585.71 L500.48,585.73 L500.64,585.75 L500.80,585.76 L500.96,585.77 L501.12,585.78 L501.28,585.78 L501.44,585.79 L501.60,585.79 L501.76,585.79 L501.92,585.80 L502.08,585.80 L502.24,585.80 L502.40,585.80 L502.40,585.80 Z" fill="#f5858a" fill-opacity="0.9" stroke="none"/>
<path d="M472.40,585.72 L472.72,585.69 L473.04,585.64 L473.36,585.59 L473.68,585.51 L474.00,585.41 L474.32,585.29 L474.64,585.13 L474.96,584.94 L475.28,584.70 L475.60,584.41 L475.92,584.07 L476.24,583.66 L476.56,583.19 L476.88,582.65 L477.20,582.05 L477.52,581.37 L477.84,580.64 L478.16,579.85 L478.48,579.02 L478.80,578.16 L479.12,577.28 L479.44,576.42 L479.76,575.58 L480.08,574.80 L480.40,574.09 L480.72,573.47 L481.04,572.97 L481.36,572.60 L481.68,572.38 L482.00,572.30 L482.32,572.38 L482.64,572.60 L482.96,572.97 L483.28,573.47 L483.60,574.09 L483.92,574.80 L484.24,575.58 L484.56,576.42 L484.88,577.28 L485.20,578.16 L485.52,579.02 L485.84,579.85 L486.16,580.64 L486.48,581.37 L486.80,582.05 L487.12,582.65 L487.44,583.19 L487.76,583.66 L488.08,584.07 L488.40,584.41 L488.72,584.70 L489.04,584.94 L489.36,585.13 L489.68,585.29 L490.00,585.41 L490.32,585.51 L490.64,585.59 L490.96,585.64 L491.28,585.69 L491.60,585.72" fill="none" stroke="#c020b0" stroke-width="0.6" stroke-opacity="0.7"/>
<path d="M479.64,585.36 L479.94,585.18 L480.24,584.94 L480.54,584.63 L480.83,584.22 L481.13,583.69 L481.43,583.01 L481.73,582.15 L482.03,581.09 L482.33,579.78 L482.63,578.20 L482.93,576.31 L483.22,574.09 L483.52,571.50 L483.82,568.55 L484.12,565.23 L484.42,561.53 L484.72,557.51 L485.02,553.18 L485.31,548.62 L485.61,543.90 L485.91,539.12 L486.21,534.38 L486.51,529.80 L486.81,525.50 L487.11,521.61 L487.41,518.24 L487.70,515.49 L488.00,513.46 L488.30,512.22 L488.60,511.80 L488.90,512.22 L489.20,513.46 L489.50,515.49 L489.79,518.24 L490.09,521.61 L490.39,525.50 L490.69,529.80 L490.99,534.38 L491.29,539.12 L491.59,543.90 L491.89,548.62 L492.18,553.18 L492.48,557.51 L492.78,561.53 L493.08,565.23 L493.38,568.55 L493.68,571.50 L493.98,574.09 L494.27,576.31 L494.57,578.20 L494.87,579.78 L495.17,581.09 L495.47,582.15 L495.77,583.01 L496.07,583.69 L496.37,584.22 L496.66,584.63 L496.96,584.94 L497.26,585.18 L497.56,585.36" fill="none" stroke="#c020b0" stroke-width="0.6" stroke-opacity="0.7"/>
<path d="M383.00,585.80 L387.94,585.80 L394.84,585.80 L403.10,585.81 L412.08,585.82 L421.18,585.81 L429.78,585.77 L437.26,585.71 L443.00,585.60 L447.04,585.44 L449.96,585.22 L452.02,584.96 L453.46,584.69 L454.50,584.41 L455.40,584.14 L456.38,583.90 L457.70,583.70 L459.22,583.55 L460.66,583.44 L462.03,583.36 L463.33,583.29 L464.57,583.22 L465.76,583.14 L466.90,583.04 L468.00,582.90 L469.05,582.74 L470.04,582.57 L470.97,582.39 L471.85,582.19 L472.69,581.97 L473.49,581.74 L474.26,581.48 L475.00,581.20 L475.70,580.93 L476.36,580.68 L476.97,580.43 L477.56,580.15 L478.11,579.81 L478.65,579.40 L479.18,578.87 L479.70,578.20 L480.22,577.38 L480.74,576.42 L481.24,575.36 L481.72,574.21 L482.18,573.00 L482.62,571.76 L483.03,570.52 L483.40,569.30 L483.74,568.21 L484.03,567.27 L484.30,566.38 L484.54,565.44 L484.77,564.33 L484.98,562.96 L485.19,561.22 L485.40,559.00 L485.60,556.15 L485.78,552.70 L485.95,548.83 L486.11,544.71 L486.27,540.54 L486.44,536.50 L486.61,532.75 L486.80,529.50 L487.01,526.48 L487.23,523.42 L487.46,520.44 L487.69,517.70 L487.93,515.33 L488.16,513.46 L488.39,512.24 L488.60,511.80 L488.80,512.24 L488.98,513.46 L489.15,515.33 L489.32,517.70 L489.50,520.44 L489.68,523.42 L489.88,526.48 L490.10,529.50 L490.34,532.68 L490.58,536.24 L490.84,540.07 L491.11,544.04 L491.39,548.04 L491.68,551.95 L491.99,555.64 L492.30,559.00 L492.63,562.17 L492.99,565.33 L493.36,568.39 L493.74,571.31 L494.13,573.99 L494.50,576.38 L494.86,578.41 L495.20,580.00 L495.51,581.06 L495.80,581.61 L496.08,581.77 L496.35,581.65 L496.62,581.36 L496.90,581.01 L497.19,580.72 L497.50,580.60 L497.84,580.56 L498.19,580.46 L498.56,580.33 L498.93,580.18 L499.31,580.05 L499.68,579.96 L500.05,579.93 L500.40,580.00 L500.74,580.17 L501.07,580.42 L501.40,580.73 L501.72,581.08 L502.04,581.46 L502.36,581.83 L502.68,582.19 L503.00,582.50 L503.30,582.79 L503.56,583.08 L503.80,583.37 L504.05,583.66 L504.33,583.93 L504.67,584.18 L505.08,584.40 L505.60,584.60 L506.27,584.76 L507.10,584.90 L508.04,585.01 L509.01,585.11 L509.97,585.19 L510.86,585.26 L511.63,585.33 L512.20,585.40 L512.58,585.47 L512.83,585.54 L512.96,585.60 L513.01,585.65 L513.01,585.70 L512.99,585.74 L512.98,585.77 L513.00,585.80" fill="none" stroke="#3c3c3c" stroke-width="0.95"/>
<path d="M485.40,559.00 L485.51,556.64 L485.64,553.42 L485.80,549.58 L485.99,545.36 L486.18,540.99 L486.39,536.74 L486.60,532.82 L486.80,529.50 L487.01,526.48 L487.23,523.42 L487.46,520.44 L487.69,517.70 L487.93,515.33 L488.16,513.46 L488.39,512.24 L488.60,511.80 L488.80,512.24 L488.98,513.46 L489.15,515.33 L489.32,517.70 L489.50,520.44 L489.68,523.42 L489.88,526.48 L490.10,529.50 L490.34,532.68 L490.58,536.24 L490.84,540.07 L491.11,544.04 L491.39,548.04 L491.68,551.95 L491.99,555.64 L492.30,559.00 L492.65,562.18 L493.04,565.34 L493.46,568.42 L493.89,571.34 L494.29,574.04 L494.66,576.43 L494.97,578.44 L495.20,580.00" fill="none" stroke="#4a3f25" stroke-width="1.0" stroke-dasharray="1.6 1.1"/>
</g>
<rect x="383.10" y="504.40" width="129.30" height="81.40" fill="none" stroke="#5a5a5a" stroke-width="1.0"/>
<line x1="382.90" y1="504.40" x2="382.90" y2="585.80" stroke="#6a6a6a" stroke-width="1.4" />
<line x1="383.10" y1="585.80" x2="512.40" y2="585.80" stroke="#6e3a6e" stroke-width="1.4" />
<line x1="379.90" y1="518.10" x2="383.10" y2="518.10" stroke="#555" stroke-width="0.9" />
<text x="0" y="0" font-size="5.2" font-weight="bold" fill="#111" stroke="#111" stroke-width="0.3" textLength="9.53" lengthAdjust="spacing" transform="translate(362.30 520.00) scale(1.5 1)">500</text>
<line x1="379.90" y1="531.48" x2="383.10" y2="531.48" stroke="#555" stroke-width="0.9" />
<text x="0" y="0" font-size="5.2" font-weight="bold" fill="#111" stroke="#111" stroke-width="0.3" textLength="9.53" lengthAdjust="spacing" transform="translate(362.30 533.38) scale(1.5 1)">400</text>
<line x1="379.90" y1="544.86" x2="383.10" y2="544.86" stroke="#555" stroke-width="0.9" />
<text x="0" y="0" font-size="5.2" font-weight="bold" fill="#111" stroke="#111" stroke-width="0.3" textLength="9.53" lengthAdjust="spacing" transform="translate(362.30 546.76) scale(1.5 1)">300</text>
<line x1="379.90" y1="558.24" x2="383.10" y2="558.24" stroke="#555" stroke-width="0.9" />
<text x="0" y="0" font-size="5.2" font-weight="bold" fill="#111" stroke="#111" stroke-width="0.3" textLength="9.53" lengthAdjust="spacing" transform="translate(362.30 560.14) scale(1.5 1)">200</text>
<line x1="379.90" y1="571.62" x2="383.10" y2="571.62" stroke="#555" stroke-width="0.9" />
<text x="0" y="0" font-size="5.2" font-weight="bold" fill="#111" stroke="#111" stroke-width="0.3" textLength="9.53" lengthAdjust="spacing" transform="translate(362.30 573.52) scale(1.5 1)">100</text>
<line x1="379.90" y1="585.00" x2="383.10" y2="585.00" stroke="#555" stroke-width="0.9" />
<text x="0" y="0" font-size="5.2" font-weight="bold" fill="#111" stroke="#111" stroke-width="0.3" textLength="2.60" lengthAdjust="spacing" transform="translate(372.70 586.90) scale(1.5 1)">0</text>
<line x1="381.50" y1="582.32" x2="383.10" y2="582.32" stroke="#8a8a8a" stroke-width="0.6" />
<line x1="381.50" y1="579.65" x2="383.10" y2="579.65" stroke="#8a8a8a" stroke-width="0.6" />
<line x1="381.50" y1="576.97" x2="383.10" y2="576.97" stroke="#8a8a8a" stroke-width="0.6" />
<line x1="381.50" y1="574.30" x2="383.10" y2="574.30" stroke="#8a8a8a" stroke-width="0.6" />
<line x1="381.50" y1="568.94" x2="383.10" y2="568.94" stroke="#8a8a8a" stroke-width="0.6" />
<line x1="381.50" y1="566.27" x2="383.10" y2="566.27" stroke="#8a8a8a" stroke-width="0.6" />
<line x1="381.50" y1="563.59" x2="383.10" y2="563.59" stroke="#8a8a8a" stroke-width="0.6" />
<line x1="381.50" y1="560.92" x2="383.10" y2="560.92" stroke="#8a8a8a" stroke-width="0.6" />
<line x1="381.50" y1="555.56" x2="383.10" y2="555.56" stroke="#8a8a8a" stroke-width="0.6" />
<line x1="381.50" y1="552.89" x2="383.10" y2="552.89" stroke="#8a8a8a" stroke-width="0.6" />
<line x1="381.50" y1="550.21" x2="383.10" y2="550.21" stroke="#8a8a8a" stroke-width="0.6" />
<line x1="381.50" y1="547.54" x2="383.10" y2="547.54" stroke="#8a8a8a" stroke-width="0.6" />
<line x1="381.50" y1="542.18" x2="383.10" y2="542.18" stroke="#8a8a8a" stroke-width="0.6" />
<line x1="381.50" y1="539.51" x2="383.10" y2="539.51" stroke="#8a8a8a" stroke-width="0.6" />
<line x1="381.50" y1="536.83" x2="383.10" y2="536.83" stroke="#8a8a8a" stroke-width="0.6" />
<line x1="381.50" y1="534.16" x2="383.10" y2="534.16" stroke="#8a8a8a" stroke-width="0.6" />
<line x1="381.50" y1="528.80" x2="383.10" y2="528.80" stroke="#8a8a8a" stroke-width="0.6" />
<line x1="381.50" y1="526.13" x2="383.10" y2="526.13" stroke="#8a8a8a" stroke-width="0.6" />
<line x1="381.50" y1="523.45" x2="383.10" y2="523.45" stroke="#8a8a8a" stroke-width="0.6" />
<line x1="381.50" y1="520.78" x2="383.10" y2="520.78" stroke="#8a8a8a" stroke-width="0.6" />
<line x1="381.50" y1="515.42" x2="383.10" y2="515.42" stroke="#8a8a8a" stroke-width="0.6" />
<line x1="381.50" y1="512.75" x2="383.10" y2="512.75" stroke="#8a8a8a" stroke-width="0.6" />
<line x1="381.50" y1="510.07" x2="383.10" y2="510.07" stroke="#8a8a8a" stroke-width="0.6" />
<line x1="381.50" y1="507.40" x2="383.10" y2="507.40" stroke="#8a8a8a" stroke-width="0.6" />
<line x1="392.83" y1="585.80" x2="392.83" y2="587.40" stroke="#999" stroke-width="0.6" />
<line x1="398.52" y1="585.80" x2="398.52" y2="587.40" stroke="#999" stroke-width="0.6" />
<line x1="402.56" y1="585.80" x2="402.56" y2="587.40" stroke="#999" stroke-width="0.6" />
<line x1="405.69" y1="585.80" x2="405.69" y2="587.40" stroke="#999" stroke-width="0.6" />
<line x1="408.25" y1="585.80" x2="408.25" y2="587.40" stroke="#999" stroke-width="0.6" />
<line x1="410.42" y1="585.80" x2="410.42" y2="587.40" stroke="#999" stroke-width="0.6" />
<line x1="412.29" y1="585.80" x2="412.29" y2="587.40" stroke="#999" stroke-width="0.6" />
<line x1="413.95" y1="585.80" x2="413.95" y2="587.40" stroke="#999" stroke-width="0.6" />
<line x1="425.16" y1="585.80" x2="425.16" y2="587.40" stroke="#999" stroke-width="0.6" />
<line x1="430.85" y1="585.80" x2="430.85" y2="587.40" stroke="#999" stroke-width="0.6" />
<line x1="434.89" y1="585.80" x2="434.89" y2="587.40" stroke="#999" stroke-width="0.6" />
<line x1="438.02" y1="585.80" x2="438.02" y2="587.40" stroke="#999" stroke-width="0.6" />
<line x1="440.58" y1="585.80" x2="440.58" y2="587.40" stroke="#999" stroke-width="0.6" />
<line x1="442.74" y1="585.80" x2="442.74" y2="587.40" stroke="#999" stroke-width="0.6" />
<line x1="444.62" y1="585.80" x2="444.62" y2="587.40" stroke="#999" stroke-width="0.6" />
<line x1="446.27" y1="585.80" x2="446.27" y2="587.40" stroke="#999" stroke-width="0.6" />
<line x1="457.48" y1="585.80" x2="457.48" y2="587.40" stroke="#999" stroke-width="0.6" />
<line x1="463.17" y1="585.80" x2="463.17" y2="587.40" stroke="#999" stroke-width="0.6" />
<line x1="467.21" y1="585.80" x2="467.21" y2="587.40" stroke="#999" stroke-width="0.6" />
<line x1="470.34" y1="585.80" x2="470.34" y2="587.40" stroke="#999" stroke-width="0.6" />
<line x1="472.90" y1="585.80" x2="472.90" y2="587.40" stroke="#999" stroke-width="0.6" />
<line x1="475.07" y1="585.80" x2="475.07" y2="587.40" stroke="#999" stroke-width="0.6" />
<line x1="476.94" y1="585.80" x2="476.94" y2="587.40" stroke="#999" stroke-width="0.6" />
<line x1="478.60" y1="585.80" x2="478.60" y2="587.40" stroke="#999" stroke-width="0.6" />
<line x1="489.81" y1="585.80" x2="489.81" y2="587.40" stroke="#999" stroke-width="0.6" />
<line x1="495.50" y1="585.80" x2="495.50" y2="587.40" stroke="#999" stroke-width="0.6" />
<line x1="499.54" y1="585.80" x2="499.54" y2="587.40" stroke="#999" stroke-width="0.6" />
<line x1="502.67" y1="585.80" x2="502.67" y2="587.40" stroke="#999" stroke-width="0.6" />
<line x1="505.23" y1="585.80" x2="505.23" y2="587.40" stroke="#999" stroke-width="0.6" />
<line x1="507.39" y1="585.80" x2="507.39" y2="587.40" stroke="#999" stroke-width="0.6" />
<line x1="509.27" y1="585.80" x2="509.27" y2="587.40" stroke="#999" stroke-width="0.6" />
<line x1="510.92" y1="585.80" x2="510.92" y2="587.40" stroke="#999" stroke-width="0.6" />
<line x1="383.10" y1="585.80" x2="383.10" y2="588.20" stroke="#777" stroke-width="0.8" />
<line x1="415.43" y1="585.80" x2="415.43" y2="588.20" stroke="#777" stroke-width="0.8" />
<line x1="447.75" y1="585.80" x2="447.75" y2="588.20" stroke="#777" stroke-width="0.8" />
<line x1="480.07" y1="585.80" x2="480.07" y2="588.20" stroke="#777" stroke-width="0.8" />
<line x1="512.40" y1="585.80" x2="512.40" y2="588.20" stroke="#777" stroke-width="0.8" />
<text x="0" y="0" font-size="5.0" font-weight="bold" fill="#111" stroke="#111" stroke-width="0.3" textLength="5.94" lengthAdjust="spacing" transform="translate(386.10 595.80) scale(1.55 1)">10</text>
<text x="0" y="0" font-size="4.5" font-weight="bold" fill="#111" stroke="#111" stroke-width="0.3" textLength="2.92" lengthAdjust="spacing" transform="translate(396.30 591.80) scale(1.2 1)">0</text>
<text x="0" y="0" font-size="5.0" font-weight="bold" fill="#111" stroke="#111" stroke-width="0.3" textLength="5.94" lengthAdjust="spacing" transform="translate(411.30 595.80) scale(1.55 1)">10</text>
<text x="0" y="0" font-size="4.5" font-weight="bold" fill="#111" stroke="#111" stroke-width="0.3" textLength="2.92" lengthAdjust="spacing" transform="translate(421.50 591.80) scale(1.2 1)">1</text>
<text x="0" y="0" font-size="5.0" font-weight="bold" fill="#111" stroke="#111" stroke-width="0.3" textLength="5.94" lengthAdjust="spacing" transform="translate(441.30 595.80) scale(1.55 1)">10</text>
<text x="0" y="0" font-size="4.5" font-weight="bold" fill="#111" stroke="#111" stroke-width="0.3" textLength="2.92" lengthAdjust="spacing" transform="translate(451.50 591.80) scale(1.2 1)">2</text>
<text x="0" y="0" font-size="5.0" font-weight="bold" fill="#111" stroke="#111" stroke-width="0.3" textLength="5.94" lengthAdjust="spacing" transform="translate(470.70 595.80) scale(1.55 1)">10</text>
<text x="0" y="0" font-size="4.5" font-weight="bold" fill="#111" stroke="#111" stroke-width="0.3" textLength="2.92" lengthAdjust="spacing" transform="translate(480.90 591.80) scale(1.2 1)">3</text>
<text x="0" y="0" font-size="5.0" font-weight="bold" fill="#111" stroke="#111" stroke-width="0.3" textLength="5.94" lengthAdjust="spacing" transform="translate(499.30 595.80) scale(1.55 1)">10</text>
<text x="0" y="0" font-size="4.5" font-weight="bold" fill="#111" stroke="#111" stroke-width="0.3" textLength="2.92" lengthAdjust="spacing" transform="translate(509.50 591.80) scale(1.2 1)">4</text>
<text x="390.50" y="513.80" font-size="9.3" font-weight="bold" fill="#000" stroke="#000" stroke-width="0.35" textLength="93.00" lengthAdjust="spacingAndGlyphs" >cells in generation&gt;1</text>
<text x="443.00" y="532.80" font-size="9.5" font-weight="bold" fill="#000" stroke="#000" stroke-width="0.3" textLength="26.80" lengthAdjust="spacingAndGlyphs" >14.5%</text>
<text x="361.20" y="550.30" font-size="9.5" font-weight="bold" fill="#000" stroke="#000" stroke-width="0.4" text-anchor="middle" textLength="45.50" lengthAdjust="spacingAndGlyphs" transform="rotate(-90 361.20 550.30)" >Cell count</text>
</svg>
</body></html>
